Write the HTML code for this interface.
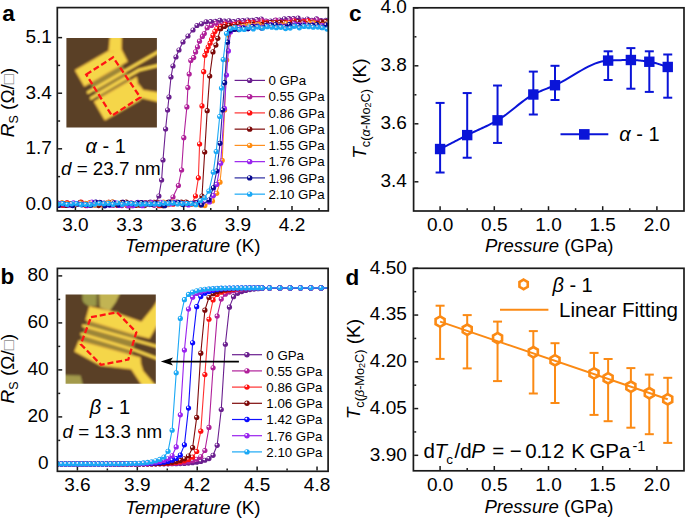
<!DOCTYPE html>
<html><head><meta charset="utf-8"><style>
html,body{margin:0;padding:0;background:#fff;}
svg{display:block;font-family:"Liberation Sans", sans-serif;}
</style></head><body>
<svg width="685" height="518" viewBox="0 0 685 518">
<defs><radialGradient id="gp0" cx="0.37" cy="0.34" r="0.66"><stop offset="0" stop-color="#fff" stop-opacity="0.95"/><stop offset="0.16" stop-color="#fff" stop-opacity="0.55"/><stop offset="0.36" stop-color="#6a1f8f"/><stop offset="1" stop-color="#6a1f8f"/></radialGradient><radialGradient id="gp055" cx="0.37" cy="0.34" r="0.66"><stop offset="0" stop-color="#fff" stop-opacity="0.95"/><stop offset="0.16" stop-color="#fff" stop-opacity="0.55"/><stop offset="0.36" stop-color="#b0209a"/><stop offset="1" stop-color="#b0209a"/></radialGradient><radialGradient id="gp086" cx="0.37" cy="0.34" r="0.66"><stop offset="0" stop-color="#fff" stop-opacity="0.95"/><stop offset="0.16" stop-color="#fff" stop-opacity="0.55"/><stop offset="0.36" stop-color="#ff1010"/><stop offset="1" stop-color="#ff1010"/></radialGradient><radialGradient id="gp106" cx="0.37" cy="0.34" r="0.66"><stop offset="0" stop-color="#fff" stop-opacity="0.95"/><stop offset="0.16" stop-color="#fff" stop-opacity="0.55"/><stop offset="0.36" stop-color="#7e0a0a"/><stop offset="1" stop-color="#7e0a0a"/></radialGradient><radialGradient id="gp155" cx="0.37" cy="0.34" r="0.66"><stop offset="0" stop-color="#fff" stop-opacity="0.95"/><stop offset="0.16" stop-color="#fff" stop-opacity="0.55"/><stop offset="0.36" stop-color="#ff8c10"/><stop offset="1" stop-color="#ff8c10"/></radialGradient><radialGradient id="gp176" cx="0.37" cy="0.34" r="0.66"><stop offset="0" stop-color="#fff" stop-opacity="0.95"/><stop offset="0.16" stop-color="#fff" stop-opacity="0.55"/><stop offset="0.36" stop-color="#9922ee"/><stop offset="1" stop-color="#9922ee"/></radialGradient><radialGradient id="gp196" cx="0.37" cy="0.34" r="0.66"><stop offset="0" stop-color="#fff" stop-opacity="0.95"/><stop offset="0.16" stop-color="#fff" stop-opacity="0.55"/><stop offset="0.36" stop-color="#0a0a90"/><stop offset="1" stop-color="#0a0a90"/></radialGradient><radialGradient id="gp210" cx="0.37" cy="0.34" r="0.66"><stop offset="0" stop-color="#fff" stop-opacity="0.95"/><stop offset="0.16" stop-color="#fff" stop-opacity="0.55"/><stop offset="0.36" stop-color="#1aa8f5"/><stop offset="1" stop-color="#1aa8f5"/></radialGradient><radialGradient id="gp142" cx="0.37" cy="0.34" r="0.66"><stop offset="0" stop-color="#fff" stop-opacity="0.95"/><stop offset="0.16" stop-color="#fff" stop-opacity="0.55"/><stop offset="0.36" stop-color="#0a0aff"/><stop offset="1" stop-color="#0a0aff"/></radialGradient><clipPath id="clipA"><rect x="57.3" y="7.6" width="271.0" height="203.3"/></clipPath><clipPath id="clipB"><rect x="57.4" y="268.4" width="270.70000000000005" height="202.90000000000003"/></clipPath><filter id="blur1" x="-5%" y="-5%" width="110%" height="110%"><feGaussianBlur stdDeviation="0.85"/></filter></defs>
<rect width="685" height="518" fill="#fff"/>
<line x1="75.40" y1="210.10" x2="75.40" y2="206.10" stroke="#1a1a1a" stroke-width="1.5"/>
<line x1="129.55" y1="210.10" x2="129.55" y2="206.10" stroke="#1a1a1a" stroke-width="1.5"/>
<line x1="183.70" y1="210.10" x2="183.70" y2="206.10" stroke="#1a1a1a" stroke-width="1.5"/>
<line x1="237.85" y1="210.10" x2="237.85" y2="206.10" stroke="#1a1a1a" stroke-width="1.5"/>
<line x1="292.00" y1="210.10" x2="292.00" y2="206.10" stroke="#1a1a1a" stroke-width="1.5"/>
<line x1="102.47" y1="210.10" x2="102.47" y2="208.10" stroke="#1a1a1a" stroke-width="1.5"/>
<line x1="156.62" y1="210.10" x2="156.62" y2="208.10" stroke="#1a1a1a" stroke-width="1.5"/>
<line x1="210.78" y1="210.10" x2="210.78" y2="208.10" stroke="#1a1a1a" stroke-width="1.5"/>
<line x1="264.92" y1="210.10" x2="264.92" y2="208.10" stroke="#1a1a1a" stroke-width="1.5"/>
<line x1="319.07" y1="210.10" x2="319.07" y2="208.10" stroke="#1a1a1a" stroke-width="1.5"/>
<line x1="58.10" y1="204.40" x2="62.10" y2="204.40" stroke="#1a1a1a" stroke-width="1.5"/>
<line x1="58.10" y1="148.81" x2="62.10" y2="148.81" stroke="#1a1a1a" stroke-width="1.5"/>
<line x1="58.10" y1="93.22" x2="62.10" y2="93.22" stroke="#1a1a1a" stroke-width="1.5"/>
<line x1="58.10" y1="37.63" x2="62.10" y2="37.63" stroke="#1a1a1a" stroke-width="1.5"/>
<line x1="58.10" y1="176.61" x2="60.10" y2="176.61" stroke="#1a1a1a" stroke-width="1.5"/>
<line x1="58.10" y1="121.02" x2="60.10" y2="121.02" stroke="#1a1a1a" stroke-width="1.5"/>
<line x1="58.10" y1="65.42" x2="60.10" y2="65.42" stroke="#1a1a1a" stroke-width="1.5"/>
<g clip-path="url(#clipA)"><path d="M58.36,204.13 L62.96,205.51 L67.56,203.77 L72.16,203.93 L76.76,204.23 L81.36,202.70 L85.96,203.95 L90.56,204.39 L95.16,205.01 L99.76,202.36 L104.36,203.15 L108.96,202.34 L113.56,205.08 L118.16,204.64 L122.76,202.16 L127.36,205.73 L131.96,205.67 L136.56,204.48 L141.16,204.34 L145.76,202.60 L150.36,202.06 L154.96,204.01 L158.90,196.00 L161.60,180.00 L163.00,160.00 L165.60,129.00 L167.60,110.00 L169.00,97.00 L171.00,77.00 L173.00,66.00 L176.00,57.00 L179.00,50.00 L183.00,42.00 L188.00,36.00 L193.00,30.00 L197.00,25.50 L201.50,23.80 L206.10,21.86 L210.70,21.70 L215.30,21.37 L219.90,20.30 L224.50,21.22 L229.10,20.81 L233.70,21.72 L238.30,20.50 L242.90,20.65 L247.50,20.04 L252.10,20.38 L256.70,19.63 L261.30,18.99 L265.90,21.06 L270.50,20.98 L275.10,20.46 L279.70,20.02 L284.30,18.81 L288.90,18.53 L293.50,18.69 L298.10,18.03 L302.70,20.11 L307.30,19.00 L311.90,20.34 L316.50,18.96 L321.10,20.67 L325.70,20.34 L330.30,17.80" fill="none" stroke="#6a1f8f" stroke-width="1.1" stroke-linejoin="round"/><circle cx="58.36" cy="204.13" r="2.6" fill="url(#gp0)"/><circle cx="62.96" cy="205.51" r="2.6" fill="url(#gp0)"/><circle cx="67.56" cy="203.77" r="2.6" fill="url(#gp0)"/><circle cx="72.16" cy="203.93" r="2.6" fill="url(#gp0)"/><circle cx="76.76" cy="204.23" r="2.6" fill="url(#gp0)"/><circle cx="81.36" cy="202.70" r="2.6" fill="url(#gp0)"/><circle cx="85.96" cy="203.95" r="2.6" fill="url(#gp0)"/><circle cx="90.56" cy="204.39" r="2.6" fill="url(#gp0)"/><circle cx="95.16" cy="205.01" r="2.6" fill="url(#gp0)"/><circle cx="99.76" cy="202.36" r="2.6" fill="url(#gp0)"/><circle cx="104.36" cy="203.15" r="2.6" fill="url(#gp0)"/><circle cx="108.96" cy="202.34" r="2.6" fill="url(#gp0)"/><circle cx="113.56" cy="205.08" r="2.6" fill="url(#gp0)"/><circle cx="118.16" cy="204.64" r="2.6" fill="url(#gp0)"/><circle cx="122.76" cy="202.16" r="2.6" fill="url(#gp0)"/><circle cx="127.36" cy="205.73" r="2.6" fill="url(#gp0)"/><circle cx="131.96" cy="205.67" r="2.6" fill="url(#gp0)"/><circle cx="136.56" cy="204.48" r="2.6" fill="url(#gp0)"/><circle cx="141.16" cy="204.34" r="2.6" fill="url(#gp0)"/><circle cx="145.76" cy="202.60" r="2.6" fill="url(#gp0)"/><circle cx="150.36" cy="202.06" r="2.6" fill="url(#gp0)"/><circle cx="154.96" cy="204.01" r="2.6" fill="url(#gp0)"/><circle cx="158.90" cy="196.00" r="2.6" fill="url(#gp0)"/><circle cx="161.60" cy="180.00" r="2.6" fill="url(#gp0)"/><circle cx="163.00" cy="160.00" r="2.6" fill="url(#gp0)"/><circle cx="165.60" cy="129.00" r="2.6" fill="url(#gp0)"/><circle cx="167.60" cy="110.00" r="2.6" fill="url(#gp0)"/><circle cx="169.00" cy="97.00" r="2.6" fill="url(#gp0)"/><circle cx="171.00" cy="77.00" r="2.6" fill="url(#gp0)"/><circle cx="173.00" cy="66.00" r="2.6" fill="url(#gp0)"/><circle cx="176.00" cy="57.00" r="2.6" fill="url(#gp0)"/><circle cx="179.00" cy="50.00" r="2.6" fill="url(#gp0)"/><circle cx="183.00" cy="42.00" r="2.6" fill="url(#gp0)"/><circle cx="188.00" cy="36.00" r="2.6" fill="url(#gp0)"/><circle cx="193.00" cy="30.00" r="2.6" fill="url(#gp0)"/><circle cx="197.00" cy="25.50" r="2.6" fill="url(#gp0)"/><circle cx="201.50" cy="23.80" r="2.6" fill="url(#gp0)"/><circle cx="206.10" cy="21.86" r="2.6" fill="url(#gp0)"/><circle cx="210.70" cy="21.70" r="2.6" fill="url(#gp0)"/><circle cx="215.30" cy="21.37" r="2.6" fill="url(#gp0)"/><circle cx="219.90" cy="20.30" r="2.6" fill="url(#gp0)"/><circle cx="224.50" cy="21.22" r="2.6" fill="url(#gp0)"/><circle cx="229.10" cy="20.81" r="2.6" fill="url(#gp0)"/><circle cx="233.70" cy="21.72" r="2.6" fill="url(#gp0)"/><circle cx="238.30" cy="20.50" r="2.6" fill="url(#gp0)"/><circle cx="242.90" cy="20.65" r="2.6" fill="url(#gp0)"/><circle cx="247.50" cy="20.04" r="2.6" fill="url(#gp0)"/><circle cx="252.10" cy="20.38" r="2.6" fill="url(#gp0)"/><circle cx="256.70" cy="19.63" r="2.6" fill="url(#gp0)"/><circle cx="261.30" cy="18.99" r="2.6" fill="url(#gp0)"/><circle cx="265.90" cy="21.06" r="2.6" fill="url(#gp0)"/><circle cx="270.50" cy="20.98" r="2.6" fill="url(#gp0)"/><circle cx="275.10" cy="20.46" r="2.6" fill="url(#gp0)"/><circle cx="279.70" cy="20.02" r="2.6" fill="url(#gp0)"/><circle cx="284.30" cy="18.81" r="2.6" fill="url(#gp0)"/><circle cx="288.90" cy="18.53" r="2.6" fill="url(#gp0)"/><circle cx="293.50" cy="18.69" r="2.6" fill="url(#gp0)"/><circle cx="298.10" cy="18.03" r="2.6" fill="url(#gp0)"/><circle cx="302.70" cy="20.11" r="2.6" fill="url(#gp0)"/><circle cx="307.30" cy="19.00" r="2.6" fill="url(#gp0)"/><circle cx="311.90" cy="20.34" r="2.6" fill="url(#gp0)"/><circle cx="316.50" cy="18.96" r="2.6" fill="url(#gp0)"/><circle cx="321.10" cy="20.67" r="2.6" fill="url(#gp0)"/><circle cx="325.70" cy="20.34" r="2.6" fill="url(#gp0)"/><circle cx="330.30" cy="17.80" r="2.6" fill="url(#gp0)"/></g>
<g clip-path="url(#clipA)"><path d="M57.54,204.51 L62.14,203.27 L66.74,202.75 L71.34,203.86 L75.94,203.88 L80.54,203.82 L85.14,203.74 L89.74,203.01 L94.34,202.96 L98.94,204.63 L103.54,203.23 L108.14,204.56 L112.74,204.99 L117.34,205.29 L121.94,205.59 L126.54,202.89 L131.14,202.90 L135.74,204.79 L140.34,204.19 L144.94,202.77 L149.54,204.57 L154.14,205.32 L158.74,205.18 L163.34,202.82 L167.94,203.14 L173.00,197.00 L178.40,185.50 L181.60,170.00 L183.80,137.70 L186.90,106.90 L187.90,87.60 L189.20,74.00 L190.80,60.50 L193.70,57.60 L195.60,51.90 L197.50,47.00 L199.50,41.20 L202.40,36.40 L204.30,33.50 L207.20,27.70 L211.50,25.50 L216.10,23.35 L220.70,25.67 L225.30,22.89 L229.90,23.95 L234.50,22.99 L239.10,22.81 L243.70,22.32 L248.30,22.97 L252.90,22.08 L257.50,21.02 L262.10,20.31 L266.70,21.28 L271.30,22.53 L275.90,20.12 L280.50,21.68 L285.10,21.48 L289.70,20.04 L294.30,20.15 L298.90,21.58 L303.50,20.82 L308.10,20.73 L312.70,20.94 L317.30,19.80 L321.90,21.61 L326.50,21.27" fill="none" stroke="#b0209a" stroke-width="1.1" stroke-linejoin="round"/><circle cx="57.54" cy="204.51" r="2.6" fill="url(#gp055)"/><circle cx="62.14" cy="203.27" r="2.6" fill="url(#gp055)"/><circle cx="66.74" cy="202.75" r="2.6" fill="url(#gp055)"/><circle cx="71.34" cy="203.86" r="2.6" fill="url(#gp055)"/><circle cx="75.94" cy="203.88" r="2.6" fill="url(#gp055)"/><circle cx="80.54" cy="203.82" r="2.6" fill="url(#gp055)"/><circle cx="85.14" cy="203.74" r="2.6" fill="url(#gp055)"/><circle cx="89.74" cy="203.01" r="2.6" fill="url(#gp055)"/><circle cx="94.34" cy="202.96" r="2.6" fill="url(#gp055)"/><circle cx="98.94" cy="204.63" r="2.6" fill="url(#gp055)"/><circle cx="103.54" cy="203.23" r="2.6" fill="url(#gp055)"/><circle cx="108.14" cy="204.56" r="2.6" fill="url(#gp055)"/><circle cx="112.74" cy="204.99" r="2.6" fill="url(#gp055)"/><circle cx="117.34" cy="205.29" r="2.6" fill="url(#gp055)"/><circle cx="121.94" cy="205.59" r="2.6" fill="url(#gp055)"/><circle cx="126.54" cy="202.89" r="2.6" fill="url(#gp055)"/><circle cx="131.14" cy="202.90" r="2.6" fill="url(#gp055)"/><circle cx="135.74" cy="204.79" r="2.6" fill="url(#gp055)"/><circle cx="140.34" cy="204.19" r="2.6" fill="url(#gp055)"/><circle cx="144.94" cy="202.77" r="2.6" fill="url(#gp055)"/><circle cx="149.54" cy="204.57" r="2.6" fill="url(#gp055)"/><circle cx="154.14" cy="205.32" r="2.6" fill="url(#gp055)"/><circle cx="158.74" cy="205.18" r="2.6" fill="url(#gp055)"/><circle cx="163.34" cy="202.82" r="2.6" fill="url(#gp055)"/><circle cx="167.94" cy="203.14" r="2.6" fill="url(#gp055)"/><circle cx="173.00" cy="197.00" r="2.6" fill="url(#gp055)"/><circle cx="178.40" cy="185.50" r="2.6" fill="url(#gp055)"/><circle cx="181.60" cy="170.00" r="2.6" fill="url(#gp055)"/><circle cx="183.80" cy="137.70" r="2.6" fill="url(#gp055)"/><circle cx="186.90" cy="106.90" r="2.6" fill="url(#gp055)"/><circle cx="187.90" cy="87.60" r="2.6" fill="url(#gp055)"/><circle cx="189.20" cy="74.00" r="2.6" fill="url(#gp055)"/><circle cx="190.80" cy="60.50" r="2.6" fill="url(#gp055)"/><circle cx="193.70" cy="57.60" r="2.6" fill="url(#gp055)"/><circle cx="195.60" cy="51.90" r="2.6" fill="url(#gp055)"/><circle cx="197.50" cy="47.00" r="2.6" fill="url(#gp055)"/><circle cx="199.50" cy="41.20" r="2.6" fill="url(#gp055)"/><circle cx="202.40" cy="36.40" r="2.6" fill="url(#gp055)"/><circle cx="204.30" cy="33.50" r="2.6" fill="url(#gp055)"/><circle cx="207.20" cy="27.70" r="2.6" fill="url(#gp055)"/><circle cx="211.50" cy="25.50" r="2.6" fill="url(#gp055)"/><circle cx="216.10" cy="23.35" r="2.6" fill="url(#gp055)"/><circle cx="220.70" cy="25.67" r="2.6" fill="url(#gp055)"/><circle cx="225.30" cy="22.89" r="2.6" fill="url(#gp055)"/><circle cx="229.90" cy="23.95" r="2.6" fill="url(#gp055)"/><circle cx="234.50" cy="22.99" r="2.6" fill="url(#gp055)"/><circle cx="239.10" cy="22.81" r="2.6" fill="url(#gp055)"/><circle cx="243.70" cy="22.32" r="2.6" fill="url(#gp055)"/><circle cx="248.30" cy="22.97" r="2.6" fill="url(#gp055)"/><circle cx="252.90" cy="22.08" r="2.6" fill="url(#gp055)"/><circle cx="257.50" cy="21.02" r="2.6" fill="url(#gp055)"/><circle cx="262.10" cy="20.31" r="2.6" fill="url(#gp055)"/><circle cx="266.70" cy="21.28" r="2.6" fill="url(#gp055)"/><circle cx="271.30" cy="22.53" r="2.6" fill="url(#gp055)"/><circle cx="275.90" cy="20.12" r="2.6" fill="url(#gp055)"/><circle cx="280.50" cy="21.68" r="2.6" fill="url(#gp055)"/><circle cx="285.10" cy="21.48" r="2.6" fill="url(#gp055)"/><circle cx="289.70" cy="20.04" r="2.6" fill="url(#gp055)"/><circle cx="294.30" cy="20.15" r="2.6" fill="url(#gp055)"/><circle cx="298.90" cy="21.58" r="2.6" fill="url(#gp055)"/><circle cx="303.50" cy="20.82" r="2.6" fill="url(#gp055)"/><circle cx="308.10" cy="20.73" r="2.6" fill="url(#gp055)"/><circle cx="312.70" cy="20.94" r="2.6" fill="url(#gp055)"/><circle cx="317.30" cy="19.80" r="2.6" fill="url(#gp055)"/><circle cx="321.90" cy="21.61" r="2.6" fill="url(#gp055)"/><circle cx="326.50" cy="21.27" r="2.6" fill="url(#gp055)"/></g>
<g clip-path="url(#clipA)"><path d="M58.13,205.52 L62.73,205.21 L67.33,202.81 L71.93,205.31 L76.53,204.42 L81.13,202.16 L85.73,205.62 L90.33,202.97 L94.93,203.16 L99.53,203.61 L104.13,204.24 L108.73,202.47 L113.33,204.61 L117.93,205.16 L122.53,203.95 L127.13,205.02 L131.73,204.37 L136.33,205.13 L140.93,202.69 L145.53,203.36 L150.13,203.78 L154.73,202.40 L159.33,205.70 L163.93,204.42 L168.53,202.37 L173.13,204.21 L177.73,203.57 L182.33,202.72 L186.93,202.61 L191.53,203.75 L195.50,196.00 L198.40,177.80 L199.60,144.00 L202.00,105.90 L203.70,71.70 L204.90,55.30 L206.60,50.90 L208.20,47.00 L210.10,43.20 L211.60,39.30 L213.00,35.40 L214.90,31.60 L216.90,28.70 L220.50,26.30 L225.10,24.37 L229.70,25.29 L234.30,24.66 L238.90,23.08 L243.50,24.96 L248.10,22.15 L252.70,22.29 L257.30,24.01 L261.90,22.04 L266.50,22.51 L271.10,22.80 L275.70,22.34 L280.30,22.44 L284.90,22.42 L289.50,22.32 L294.10,21.01 L298.70,23.27 L303.30,21.66 L307.90,20.95 L312.50,22.03 L317.10,23.24 L321.70,22.69 L326.30,22.17 L330.90,22.23" fill="none" stroke="#ff3030" stroke-width="1.1" stroke-linejoin="round"/><circle cx="58.13" cy="205.52" r="2.6" fill="url(#gp086)"/><circle cx="62.73" cy="205.21" r="2.6" fill="url(#gp086)"/><circle cx="67.33" cy="202.81" r="2.6" fill="url(#gp086)"/><circle cx="71.93" cy="205.31" r="2.6" fill="url(#gp086)"/><circle cx="76.53" cy="204.42" r="2.6" fill="url(#gp086)"/><circle cx="81.13" cy="202.16" r="2.6" fill="url(#gp086)"/><circle cx="85.73" cy="205.62" r="2.6" fill="url(#gp086)"/><circle cx="90.33" cy="202.97" r="2.6" fill="url(#gp086)"/><circle cx="94.93" cy="203.16" r="2.6" fill="url(#gp086)"/><circle cx="99.53" cy="203.61" r="2.6" fill="url(#gp086)"/><circle cx="104.13" cy="204.24" r="2.6" fill="url(#gp086)"/><circle cx="108.73" cy="202.47" r="2.6" fill="url(#gp086)"/><circle cx="113.33" cy="204.61" r="2.6" fill="url(#gp086)"/><circle cx="117.93" cy="205.16" r="2.6" fill="url(#gp086)"/><circle cx="122.53" cy="203.95" r="2.6" fill="url(#gp086)"/><circle cx="127.13" cy="205.02" r="2.6" fill="url(#gp086)"/><circle cx="131.73" cy="204.37" r="2.6" fill="url(#gp086)"/><circle cx="136.33" cy="205.13" r="2.6" fill="url(#gp086)"/><circle cx="140.93" cy="202.69" r="2.6" fill="url(#gp086)"/><circle cx="145.53" cy="203.36" r="2.6" fill="url(#gp086)"/><circle cx="150.13" cy="203.78" r="2.6" fill="url(#gp086)"/><circle cx="154.73" cy="202.40" r="2.6" fill="url(#gp086)"/><circle cx="159.33" cy="205.70" r="2.6" fill="url(#gp086)"/><circle cx="163.93" cy="204.42" r="2.6" fill="url(#gp086)"/><circle cx="168.53" cy="202.37" r="2.6" fill="url(#gp086)"/><circle cx="173.13" cy="204.21" r="2.6" fill="url(#gp086)"/><circle cx="177.73" cy="203.57" r="2.6" fill="url(#gp086)"/><circle cx="182.33" cy="202.72" r="2.6" fill="url(#gp086)"/><circle cx="186.93" cy="202.61" r="2.6" fill="url(#gp086)"/><circle cx="191.53" cy="203.75" r="2.6" fill="url(#gp086)"/><circle cx="195.50" cy="196.00" r="2.6" fill="url(#gp086)"/><circle cx="198.40" cy="177.80" r="2.6" fill="url(#gp086)"/><circle cx="199.60" cy="144.00" r="2.6" fill="url(#gp086)"/><circle cx="202.00" cy="105.90" r="2.6" fill="url(#gp086)"/><circle cx="203.70" cy="71.70" r="2.6" fill="url(#gp086)"/><circle cx="204.90" cy="55.30" r="2.6" fill="url(#gp086)"/><circle cx="206.60" cy="50.90" r="2.6" fill="url(#gp086)"/><circle cx="208.20" cy="47.00" r="2.6" fill="url(#gp086)"/><circle cx="210.10" cy="43.20" r="2.6" fill="url(#gp086)"/><circle cx="211.60" cy="39.30" r="2.6" fill="url(#gp086)"/><circle cx="213.00" cy="35.40" r="2.6" fill="url(#gp086)"/><circle cx="214.90" cy="31.60" r="2.6" fill="url(#gp086)"/><circle cx="216.90" cy="28.70" r="2.6" fill="url(#gp086)"/><circle cx="220.50" cy="26.30" r="2.6" fill="url(#gp086)"/><circle cx="225.10" cy="24.37" r="2.6" fill="url(#gp086)"/><circle cx="229.70" cy="25.29" r="2.6" fill="url(#gp086)"/><circle cx="234.30" cy="24.66" r="2.6" fill="url(#gp086)"/><circle cx="238.90" cy="23.08" r="2.6" fill="url(#gp086)"/><circle cx="243.50" cy="24.96" r="2.6" fill="url(#gp086)"/><circle cx="248.10" cy="22.15" r="2.6" fill="url(#gp086)"/><circle cx="252.70" cy="22.29" r="2.6" fill="url(#gp086)"/><circle cx="257.30" cy="24.01" r="2.6" fill="url(#gp086)"/><circle cx="261.90" cy="22.04" r="2.6" fill="url(#gp086)"/><circle cx="266.50" cy="22.51" r="2.6" fill="url(#gp086)"/><circle cx="271.10" cy="22.80" r="2.6" fill="url(#gp086)"/><circle cx="275.70" cy="22.34" r="2.6" fill="url(#gp086)"/><circle cx="280.30" cy="22.44" r="2.6" fill="url(#gp086)"/><circle cx="284.90" cy="22.42" r="2.6" fill="url(#gp086)"/><circle cx="289.50" cy="22.32" r="2.6" fill="url(#gp086)"/><circle cx="294.10" cy="21.01" r="2.6" fill="url(#gp086)"/><circle cx="298.70" cy="23.27" r="2.6" fill="url(#gp086)"/><circle cx="303.30" cy="21.66" r="2.6" fill="url(#gp086)"/><circle cx="307.90" cy="20.95" r="2.6" fill="url(#gp086)"/><circle cx="312.50" cy="22.03" r="2.6" fill="url(#gp086)"/><circle cx="317.10" cy="23.24" r="2.6" fill="url(#gp086)"/><circle cx="321.70" cy="22.69" r="2.6" fill="url(#gp086)"/><circle cx="326.30" cy="22.17" r="2.6" fill="url(#gp086)"/><circle cx="330.90" cy="22.23" r="2.6" fill="url(#gp086)"/></g>
<g clip-path="url(#clipA)"><path d="M57.23,202.81 L61.83,203.15 L66.43,205.42 L71.03,203.89 L75.63,204.74 L80.23,202.38 L84.83,203.93 L89.43,205.20 L94.03,203.99 L98.63,205.59 L103.23,205.35 L107.83,203.41 L112.43,202.00 L117.03,204.87 L121.63,202.48 L126.23,202.04 L130.83,204.78 L135.43,205.20 L140.03,205.18 L144.63,205.62 L149.23,202.77 L153.83,202.31 L158.43,202.46 L163.03,205.72 L167.63,202.43 L172.23,202.61 L176.83,202.08 L181.43,202.19 L186.03,202.15 L190.63,203.34 L195.23,202.62 L202.00,196.00 L204.70,152.00 L207.20,110.70 L209.70,76.00 L213.00,51.90 L215.90,45.10 L217.80,38.30 L220.70,28.70 L224.50,26.50 L229.10,25.35 L233.70,26.70 L238.30,23.98 L242.90,25.55 L247.50,25.00 L252.10,24.22 L256.70,24.02 L261.30,24.42 L265.90,23.72 L270.50,22.53 L275.10,22.73 L279.70,22.40 L284.30,22.82 L288.90,24.54 L293.50,22.83 L298.10,21.73 L302.70,22.94 L307.30,23.94 L311.90,22.84 L316.50,23.61 L321.10,21.77 L325.70,21.69 L330.30,23.49" fill="none" stroke="#7e0a0a" stroke-width="1.1" stroke-linejoin="round"/><circle cx="57.23" cy="202.81" r="2.6" fill="url(#gp106)"/><circle cx="61.83" cy="203.15" r="2.6" fill="url(#gp106)"/><circle cx="66.43" cy="205.42" r="2.6" fill="url(#gp106)"/><circle cx="71.03" cy="203.89" r="2.6" fill="url(#gp106)"/><circle cx="75.63" cy="204.74" r="2.6" fill="url(#gp106)"/><circle cx="80.23" cy="202.38" r="2.6" fill="url(#gp106)"/><circle cx="84.83" cy="203.93" r="2.6" fill="url(#gp106)"/><circle cx="89.43" cy="205.20" r="2.6" fill="url(#gp106)"/><circle cx="94.03" cy="203.99" r="2.6" fill="url(#gp106)"/><circle cx="98.63" cy="205.59" r="2.6" fill="url(#gp106)"/><circle cx="103.23" cy="205.35" r="2.6" fill="url(#gp106)"/><circle cx="107.83" cy="203.41" r="2.6" fill="url(#gp106)"/><circle cx="112.43" cy="202.00" r="2.6" fill="url(#gp106)"/><circle cx="117.03" cy="204.87" r="2.6" fill="url(#gp106)"/><circle cx="121.63" cy="202.48" r="2.6" fill="url(#gp106)"/><circle cx="126.23" cy="202.04" r="2.6" fill="url(#gp106)"/><circle cx="130.83" cy="204.78" r="2.6" fill="url(#gp106)"/><circle cx="135.43" cy="205.20" r="2.6" fill="url(#gp106)"/><circle cx="140.03" cy="205.18" r="2.6" fill="url(#gp106)"/><circle cx="144.63" cy="205.62" r="2.6" fill="url(#gp106)"/><circle cx="149.23" cy="202.77" r="2.6" fill="url(#gp106)"/><circle cx="153.83" cy="202.31" r="2.6" fill="url(#gp106)"/><circle cx="158.43" cy="202.46" r="2.6" fill="url(#gp106)"/><circle cx="163.03" cy="205.72" r="2.6" fill="url(#gp106)"/><circle cx="167.63" cy="202.43" r="2.6" fill="url(#gp106)"/><circle cx="172.23" cy="202.61" r="2.6" fill="url(#gp106)"/><circle cx="176.83" cy="202.08" r="2.6" fill="url(#gp106)"/><circle cx="181.43" cy="202.19" r="2.6" fill="url(#gp106)"/><circle cx="186.03" cy="202.15" r="2.6" fill="url(#gp106)"/><circle cx="190.63" cy="203.34" r="2.6" fill="url(#gp106)"/><circle cx="195.23" cy="202.62" r="2.6" fill="url(#gp106)"/><circle cx="202.00" cy="196.00" r="2.6" fill="url(#gp106)"/><circle cx="204.70" cy="152.00" r="2.6" fill="url(#gp106)"/><circle cx="207.20" cy="110.70" r="2.6" fill="url(#gp106)"/><circle cx="209.70" cy="76.00" r="2.6" fill="url(#gp106)"/><circle cx="213.00" cy="51.90" r="2.6" fill="url(#gp106)"/><circle cx="215.90" cy="45.10" r="2.6" fill="url(#gp106)"/><circle cx="217.80" cy="38.30" r="2.6" fill="url(#gp106)"/><circle cx="220.70" cy="28.70" r="2.6" fill="url(#gp106)"/><circle cx="224.50" cy="26.50" r="2.6" fill="url(#gp106)"/><circle cx="229.10" cy="25.35" r="2.6" fill="url(#gp106)"/><circle cx="233.70" cy="26.70" r="2.6" fill="url(#gp106)"/><circle cx="238.30" cy="23.98" r="2.6" fill="url(#gp106)"/><circle cx="242.90" cy="25.55" r="2.6" fill="url(#gp106)"/><circle cx="247.50" cy="25.00" r="2.6" fill="url(#gp106)"/><circle cx="252.10" cy="24.22" r="2.6" fill="url(#gp106)"/><circle cx="256.70" cy="24.02" r="2.6" fill="url(#gp106)"/><circle cx="261.30" cy="24.42" r="2.6" fill="url(#gp106)"/><circle cx="265.90" cy="23.72" r="2.6" fill="url(#gp106)"/><circle cx="270.50" cy="22.53" r="2.6" fill="url(#gp106)"/><circle cx="275.10" cy="22.73" r="2.6" fill="url(#gp106)"/><circle cx="279.70" cy="22.40" r="2.6" fill="url(#gp106)"/><circle cx="284.30" cy="22.82" r="2.6" fill="url(#gp106)"/><circle cx="288.90" cy="24.54" r="2.6" fill="url(#gp106)"/><circle cx="293.50" cy="22.83" r="2.6" fill="url(#gp106)"/><circle cx="298.10" cy="21.73" r="2.6" fill="url(#gp106)"/><circle cx="302.70" cy="22.94" r="2.6" fill="url(#gp106)"/><circle cx="307.30" cy="23.94" r="2.6" fill="url(#gp106)"/><circle cx="311.90" cy="22.84" r="2.6" fill="url(#gp106)"/><circle cx="316.50" cy="23.61" r="2.6" fill="url(#gp106)"/><circle cx="321.10" cy="21.77" r="2.6" fill="url(#gp106)"/><circle cx="325.70" cy="21.69" r="2.6" fill="url(#gp106)"/><circle cx="330.30" cy="23.49" r="2.6" fill="url(#gp106)"/></g>
<g clip-path="url(#clipA)"><path d="M57.63,203.46 L62.23,202.74 L66.83,203.50 L71.43,204.14 L76.03,204.45 L80.63,202.97 L85.23,203.35 L89.83,202.68 L94.43,205.10 L99.03,203.12 L103.63,205.35 L108.23,202.28 L112.83,202.03 L117.43,203.61 L122.03,203.60 L126.63,204.86 L131.23,205.30 L135.83,203.95 L140.43,203.14 L145.03,204.72 L149.63,203.75 L154.23,202.98 L158.83,203.22 L163.43,202.00 L168.03,204.69 L172.63,202.17 L177.23,202.71 L181.83,204.35 L186.43,204.36 L191.03,204.35 L195.63,204.41 L200.23,205.04 L204.83,205.59 L212.50,201.00 L216.70,193.30 L220.00,182.20 L222.20,160.40 L224.60,110.00 L226.70,60.00 L228.50,35.00 L231.00,28.50 L235.60,29.17 L240.20,26.79 L244.80,26.13 L249.40,25.03 L254.00,25.53 L258.60,24.43 L263.20,26.45 L267.80,25.69 L272.40,23.97 L277.00,25.20 L281.60,25.12 L286.20,23.25 L290.80,25.32 L295.40,25.06 L300.00,24.25 L304.60,25.65 L309.20,23.07 L313.80,22.90 L318.40,24.97 L323.00,24.80 L327.60,22.81" fill="none" stroke="#ff9020" stroke-width="1.1" stroke-linejoin="round"/><circle cx="57.63" cy="203.46" r="2.6" fill="url(#gp155)"/><circle cx="62.23" cy="202.74" r="2.6" fill="url(#gp155)"/><circle cx="66.83" cy="203.50" r="2.6" fill="url(#gp155)"/><circle cx="71.43" cy="204.14" r="2.6" fill="url(#gp155)"/><circle cx="76.03" cy="204.45" r="2.6" fill="url(#gp155)"/><circle cx="80.63" cy="202.97" r="2.6" fill="url(#gp155)"/><circle cx="85.23" cy="203.35" r="2.6" fill="url(#gp155)"/><circle cx="89.83" cy="202.68" r="2.6" fill="url(#gp155)"/><circle cx="94.43" cy="205.10" r="2.6" fill="url(#gp155)"/><circle cx="99.03" cy="203.12" r="2.6" fill="url(#gp155)"/><circle cx="103.63" cy="205.35" r="2.6" fill="url(#gp155)"/><circle cx="108.23" cy="202.28" r="2.6" fill="url(#gp155)"/><circle cx="112.83" cy="202.03" r="2.6" fill="url(#gp155)"/><circle cx="117.43" cy="203.61" r="2.6" fill="url(#gp155)"/><circle cx="122.03" cy="203.60" r="2.6" fill="url(#gp155)"/><circle cx="126.63" cy="204.86" r="2.6" fill="url(#gp155)"/><circle cx="131.23" cy="205.30" r="2.6" fill="url(#gp155)"/><circle cx="135.83" cy="203.95" r="2.6" fill="url(#gp155)"/><circle cx="140.43" cy="203.14" r="2.6" fill="url(#gp155)"/><circle cx="145.03" cy="204.72" r="2.6" fill="url(#gp155)"/><circle cx="149.63" cy="203.75" r="2.6" fill="url(#gp155)"/><circle cx="154.23" cy="202.98" r="2.6" fill="url(#gp155)"/><circle cx="158.83" cy="203.22" r="2.6" fill="url(#gp155)"/><circle cx="163.43" cy="202.00" r="2.6" fill="url(#gp155)"/><circle cx="168.03" cy="204.69" r="2.6" fill="url(#gp155)"/><circle cx="172.63" cy="202.17" r="2.6" fill="url(#gp155)"/><circle cx="177.23" cy="202.71" r="2.6" fill="url(#gp155)"/><circle cx="181.83" cy="204.35" r="2.6" fill="url(#gp155)"/><circle cx="186.43" cy="204.36" r="2.6" fill="url(#gp155)"/><circle cx="191.03" cy="204.35" r="2.6" fill="url(#gp155)"/><circle cx="195.63" cy="204.41" r="2.6" fill="url(#gp155)"/><circle cx="200.23" cy="205.04" r="2.6" fill="url(#gp155)"/><circle cx="204.83" cy="205.59" r="2.6" fill="url(#gp155)"/><circle cx="212.50" cy="201.00" r="2.6" fill="url(#gp155)"/><circle cx="216.70" cy="193.30" r="2.6" fill="url(#gp155)"/><circle cx="220.00" cy="182.20" r="2.6" fill="url(#gp155)"/><circle cx="222.20" cy="160.40" r="2.6" fill="url(#gp155)"/><circle cx="224.60" cy="110.00" r="2.6" fill="url(#gp155)"/><circle cx="226.70" cy="60.00" r="2.6" fill="url(#gp155)"/><circle cx="228.50" cy="35.00" r="2.6" fill="url(#gp155)"/><circle cx="231.00" cy="28.50" r="2.6" fill="url(#gp155)"/><circle cx="235.60" cy="29.17" r="2.6" fill="url(#gp155)"/><circle cx="240.20" cy="26.79" r="2.6" fill="url(#gp155)"/><circle cx="244.80" cy="26.13" r="2.6" fill="url(#gp155)"/><circle cx="249.40" cy="25.03" r="2.6" fill="url(#gp155)"/><circle cx="254.00" cy="25.53" r="2.6" fill="url(#gp155)"/><circle cx="258.60" cy="24.43" r="2.6" fill="url(#gp155)"/><circle cx="263.20" cy="26.45" r="2.6" fill="url(#gp155)"/><circle cx="267.80" cy="25.69" r="2.6" fill="url(#gp155)"/><circle cx="272.40" cy="23.97" r="2.6" fill="url(#gp155)"/><circle cx="277.00" cy="25.20" r="2.6" fill="url(#gp155)"/><circle cx="281.60" cy="25.12" r="2.6" fill="url(#gp155)"/><circle cx="286.20" cy="23.25" r="2.6" fill="url(#gp155)"/><circle cx="290.80" cy="25.32" r="2.6" fill="url(#gp155)"/><circle cx="295.40" cy="25.06" r="2.6" fill="url(#gp155)"/><circle cx="300.00" cy="24.25" r="2.6" fill="url(#gp155)"/><circle cx="304.60" cy="25.65" r="2.6" fill="url(#gp155)"/><circle cx="309.20" cy="23.07" r="2.6" fill="url(#gp155)"/><circle cx="313.80" cy="22.90" r="2.6" fill="url(#gp155)"/><circle cx="318.40" cy="24.97" r="2.6" fill="url(#gp155)"/><circle cx="323.00" cy="24.80" r="2.6" fill="url(#gp155)"/><circle cx="327.60" cy="22.81" r="2.6" fill="url(#gp155)"/></g>
<g clip-path="url(#clipA)"><path d="M59.66,203.52 L64.26,204.24 L68.86,205.27 L73.46,202.87 L78.06,203.96 L82.66,204.22 L87.26,205.60 L91.86,202.12 L96.46,202.26 L101.06,203.22 L105.66,205.14 L110.26,205.20 L114.86,202.51 L119.46,205.49 L124.06,204.01 L128.66,205.68 L133.26,205.55 L137.86,202.35 L142.46,205.70 L147.06,203.82 L151.66,202.59 L156.26,203.77 L160.86,202.28 L165.46,204.85 L170.06,204.07 L174.66,202.42 L179.26,202.86 L183.86,203.92 L188.46,204.96 L193.06,203.05 L197.66,202.41 L202.26,203.35 L209.50,202.00 L213.30,195.60 L216.70,184.40 L220.70,163.30 L224.40,108.40 L226.50,75.00 L228.40,50.90 L230.50,32.00 L234.50,29.50 L239.10,27.43 L243.70,27.55 L248.30,28.59 L252.90,26.05 L257.50,26.00 L262.10,27.09 L266.70,25.11 L271.30,24.63 L275.90,24.87 L280.50,25.82 L285.10,26.03 L289.70,25.86 L294.30,23.97 L298.90,24.59 L303.50,24.07 L308.10,25.39 L312.70,24.80 L317.30,25.95 L321.90,25.41 L326.50,25.45" fill="none" stroke="#9922ee" stroke-width="1.1" stroke-linejoin="round"/><circle cx="59.66" cy="203.52" r="2.6" fill="url(#gp176)"/><circle cx="64.26" cy="204.24" r="2.6" fill="url(#gp176)"/><circle cx="68.86" cy="205.27" r="2.6" fill="url(#gp176)"/><circle cx="73.46" cy="202.87" r="2.6" fill="url(#gp176)"/><circle cx="78.06" cy="203.96" r="2.6" fill="url(#gp176)"/><circle cx="82.66" cy="204.22" r="2.6" fill="url(#gp176)"/><circle cx="87.26" cy="205.60" r="2.6" fill="url(#gp176)"/><circle cx="91.86" cy="202.12" r="2.6" fill="url(#gp176)"/><circle cx="96.46" cy="202.26" r="2.6" fill="url(#gp176)"/><circle cx="101.06" cy="203.22" r="2.6" fill="url(#gp176)"/><circle cx="105.66" cy="205.14" r="2.6" fill="url(#gp176)"/><circle cx="110.26" cy="205.20" r="2.6" fill="url(#gp176)"/><circle cx="114.86" cy="202.51" r="2.6" fill="url(#gp176)"/><circle cx="119.46" cy="205.49" r="2.6" fill="url(#gp176)"/><circle cx="124.06" cy="204.01" r="2.6" fill="url(#gp176)"/><circle cx="128.66" cy="205.68" r="2.6" fill="url(#gp176)"/><circle cx="133.26" cy="205.55" r="2.6" fill="url(#gp176)"/><circle cx="137.86" cy="202.35" r="2.6" fill="url(#gp176)"/><circle cx="142.46" cy="205.70" r="2.6" fill="url(#gp176)"/><circle cx="147.06" cy="203.82" r="2.6" fill="url(#gp176)"/><circle cx="151.66" cy="202.59" r="2.6" fill="url(#gp176)"/><circle cx="156.26" cy="203.77" r="2.6" fill="url(#gp176)"/><circle cx="160.86" cy="202.28" r="2.6" fill="url(#gp176)"/><circle cx="165.46" cy="204.85" r="2.6" fill="url(#gp176)"/><circle cx="170.06" cy="204.07" r="2.6" fill="url(#gp176)"/><circle cx="174.66" cy="202.42" r="2.6" fill="url(#gp176)"/><circle cx="179.26" cy="202.86" r="2.6" fill="url(#gp176)"/><circle cx="183.86" cy="203.92" r="2.6" fill="url(#gp176)"/><circle cx="188.46" cy="204.96" r="2.6" fill="url(#gp176)"/><circle cx="193.06" cy="203.05" r="2.6" fill="url(#gp176)"/><circle cx="197.66" cy="202.41" r="2.6" fill="url(#gp176)"/><circle cx="202.26" cy="203.35" r="2.6" fill="url(#gp176)"/><circle cx="209.50" cy="202.00" r="2.6" fill="url(#gp176)"/><circle cx="213.30" cy="195.60" r="2.6" fill="url(#gp176)"/><circle cx="216.70" cy="184.40" r="2.6" fill="url(#gp176)"/><circle cx="220.70" cy="163.30" r="2.6" fill="url(#gp176)"/><circle cx="224.40" cy="108.40" r="2.6" fill="url(#gp176)"/><circle cx="226.50" cy="75.00" r="2.6" fill="url(#gp176)"/><circle cx="228.40" cy="50.90" r="2.6" fill="url(#gp176)"/><circle cx="230.50" cy="32.00" r="2.6" fill="url(#gp176)"/><circle cx="234.50" cy="29.50" r="2.6" fill="url(#gp176)"/><circle cx="239.10" cy="27.43" r="2.6" fill="url(#gp176)"/><circle cx="243.70" cy="27.55" r="2.6" fill="url(#gp176)"/><circle cx="248.30" cy="28.59" r="2.6" fill="url(#gp176)"/><circle cx="252.90" cy="26.05" r="2.6" fill="url(#gp176)"/><circle cx="257.50" cy="26.00" r="2.6" fill="url(#gp176)"/><circle cx="262.10" cy="27.09" r="2.6" fill="url(#gp176)"/><circle cx="266.70" cy="25.11" r="2.6" fill="url(#gp176)"/><circle cx="271.30" cy="24.63" r="2.6" fill="url(#gp176)"/><circle cx="275.90" cy="24.87" r="2.6" fill="url(#gp176)"/><circle cx="280.50" cy="25.82" r="2.6" fill="url(#gp176)"/><circle cx="285.10" cy="26.03" r="2.6" fill="url(#gp176)"/><circle cx="289.70" cy="25.86" r="2.6" fill="url(#gp176)"/><circle cx="294.30" cy="23.97" r="2.6" fill="url(#gp176)"/><circle cx="298.90" cy="24.59" r="2.6" fill="url(#gp176)"/><circle cx="303.50" cy="24.07" r="2.6" fill="url(#gp176)"/><circle cx="308.10" cy="25.39" r="2.6" fill="url(#gp176)"/><circle cx="312.70" cy="24.80" r="2.6" fill="url(#gp176)"/><circle cx="317.30" cy="25.95" r="2.6" fill="url(#gp176)"/><circle cx="321.90" cy="25.41" r="2.6" fill="url(#gp176)"/><circle cx="326.50" cy="25.45" r="2.6" fill="url(#gp176)"/></g>
<g clip-path="url(#clipA)"><path d="M58.85,205.38 L63.45,203.73 L68.05,204.70 L72.65,205.56 L77.25,203.98 L81.85,204.79 L86.45,204.77 L91.05,205.26 L95.65,202.14 L100.25,202.64 L104.85,205.79 L109.45,204.84 L114.05,202.99 L118.65,204.82 L123.25,202.64 L127.85,203.37 L132.45,203.68 L137.05,202.87 L141.65,202.53 L146.25,203.93 L150.85,204.46 L155.45,203.21 L160.05,204.51 L164.65,205.73 L169.25,202.21 L173.85,203.06 L178.45,202.34 L183.05,204.57 L187.65,203.57 L192.25,203.67 L196.85,202.94 L201.45,204.95 L209.00,200.00 L213.30,187.80 L216.70,171.00 L220.00,143.30 L222.50,110.00 L224.60,82.70 L227.50,42.20 L229.50,31.00 L234.00,29.50 L238.60,29.61 L243.20,28.10 L247.80,28.74 L252.40,26.55 L257.00,26.55 L261.60,28.10 L266.20,25.68 L270.80,25.25 L275.40,24.77 L280.00,26.57 L284.60,26.93 L289.20,24.57 L293.80,25.80 L298.40,25.53 L303.00,25.30 L307.60,25.01 L312.20,25.46 L316.80,24.72 L321.40,27.07 L326.00,24.90 L330.60,25.91" fill="none" stroke="#2a2aa0" stroke-width="1.1" stroke-linejoin="round"/><circle cx="58.85" cy="205.38" r="2.6" fill="url(#gp196)"/><circle cx="63.45" cy="203.73" r="2.6" fill="url(#gp196)"/><circle cx="68.05" cy="204.70" r="2.6" fill="url(#gp196)"/><circle cx="72.65" cy="205.56" r="2.6" fill="url(#gp196)"/><circle cx="77.25" cy="203.98" r="2.6" fill="url(#gp196)"/><circle cx="81.85" cy="204.79" r="2.6" fill="url(#gp196)"/><circle cx="86.45" cy="204.77" r="2.6" fill="url(#gp196)"/><circle cx="91.05" cy="205.26" r="2.6" fill="url(#gp196)"/><circle cx="95.65" cy="202.14" r="2.6" fill="url(#gp196)"/><circle cx="100.25" cy="202.64" r="2.6" fill="url(#gp196)"/><circle cx="104.85" cy="205.79" r="2.6" fill="url(#gp196)"/><circle cx="109.45" cy="204.84" r="2.6" fill="url(#gp196)"/><circle cx="114.05" cy="202.99" r="2.6" fill="url(#gp196)"/><circle cx="118.65" cy="204.82" r="2.6" fill="url(#gp196)"/><circle cx="123.25" cy="202.64" r="2.6" fill="url(#gp196)"/><circle cx="127.85" cy="203.37" r="2.6" fill="url(#gp196)"/><circle cx="132.45" cy="203.68" r="2.6" fill="url(#gp196)"/><circle cx="137.05" cy="202.87" r="2.6" fill="url(#gp196)"/><circle cx="141.65" cy="202.53" r="2.6" fill="url(#gp196)"/><circle cx="146.25" cy="203.93" r="2.6" fill="url(#gp196)"/><circle cx="150.85" cy="204.46" r="2.6" fill="url(#gp196)"/><circle cx="155.45" cy="203.21" r="2.6" fill="url(#gp196)"/><circle cx="160.05" cy="204.51" r="2.6" fill="url(#gp196)"/><circle cx="164.65" cy="205.73" r="2.6" fill="url(#gp196)"/><circle cx="169.25" cy="202.21" r="2.6" fill="url(#gp196)"/><circle cx="173.85" cy="203.06" r="2.6" fill="url(#gp196)"/><circle cx="178.45" cy="202.34" r="2.6" fill="url(#gp196)"/><circle cx="183.05" cy="204.57" r="2.6" fill="url(#gp196)"/><circle cx="187.65" cy="203.57" r="2.6" fill="url(#gp196)"/><circle cx="192.25" cy="203.67" r="2.6" fill="url(#gp196)"/><circle cx="196.85" cy="202.94" r="2.6" fill="url(#gp196)"/><circle cx="201.45" cy="204.95" r="2.6" fill="url(#gp196)"/><circle cx="209.00" cy="200.00" r="2.6" fill="url(#gp196)"/><circle cx="213.30" cy="187.80" r="2.6" fill="url(#gp196)"/><circle cx="216.70" cy="171.00" r="2.6" fill="url(#gp196)"/><circle cx="220.00" cy="143.30" r="2.6" fill="url(#gp196)"/><circle cx="222.50" cy="110.00" r="2.6" fill="url(#gp196)"/><circle cx="224.60" cy="82.70" r="2.6" fill="url(#gp196)"/><circle cx="227.50" cy="42.20" r="2.6" fill="url(#gp196)"/><circle cx="229.50" cy="31.00" r="2.6" fill="url(#gp196)"/><circle cx="234.00" cy="29.50" r="2.6" fill="url(#gp196)"/><circle cx="238.60" cy="29.61" r="2.6" fill="url(#gp196)"/><circle cx="243.20" cy="28.10" r="2.6" fill="url(#gp196)"/><circle cx="247.80" cy="28.74" r="2.6" fill="url(#gp196)"/><circle cx="252.40" cy="26.55" r="2.6" fill="url(#gp196)"/><circle cx="257.00" cy="26.55" r="2.6" fill="url(#gp196)"/><circle cx="261.60" cy="28.10" r="2.6" fill="url(#gp196)"/><circle cx="266.20" cy="25.68" r="2.6" fill="url(#gp196)"/><circle cx="270.80" cy="25.25" r="2.6" fill="url(#gp196)"/><circle cx="275.40" cy="24.77" r="2.6" fill="url(#gp196)"/><circle cx="280.00" cy="26.57" r="2.6" fill="url(#gp196)"/><circle cx="284.60" cy="26.93" r="2.6" fill="url(#gp196)"/><circle cx="289.20" cy="24.57" r="2.6" fill="url(#gp196)"/><circle cx="293.80" cy="25.80" r="2.6" fill="url(#gp196)"/><circle cx="298.40" cy="25.53" r="2.6" fill="url(#gp196)"/><circle cx="303.00" cy="25.30" r="2.6" fill="url(#gp196)"/><circle cx="307.60" cy="25.01" r="2.6" fill="url(#gp196)"/><circle cx="312.20" cy="25.46" r="2.6" fill="url(#gp196)"/><circle cx="316.80" cy="24.72" r="2.6" fill="url(#gp196)"/><circle cx="321.40" cy="27.07" r="2.6" fill="url(#gp196)"/><circle cx="326.00" cy="24.90" r="2.6" fill="url(#gp196)"/><circle cx="330.60" cy="25.91" r="2.6" fill="url(#gp196)"/></g>
<g clip-path="url(#clipA)"><path d="M57.92,204.04 L62.52,203.48 L67.12,204.45 L71.72,203.84 L76.32,203.60 L80.92,204.61 L85.52,204.43 L90.12,204.55 L94.72,204.20 L99.32,203.33 L103.92,203.70 L108.52,203.43 L113.12,204.43 L117.72,203.02 L122.32,204.42 L126.92,203.30 L131.52,203.55 L136.12,204.13 L140.72,204.21 L145.32,203.92 L149.92,204.00 L154.52,204.06 L159.12,204.08 L163.72,203.19 L168.32,203.54 L172.92,203.04 L177.52,204.02 L182.12,203.53 L186.72,203.44 L191.32,203.49 L195.92,204.69 L200.50,200.50 L204.40,197.80 L208.90,191.10 L213.30,172.20 L216.20,151.60 L219.70,116.50 L221.50,88.00 L223.20,59.60 L226.50,33.50 L230.40,28.70 L235.00,27.39 L239.60,29.55 L244.20,29.41 L248.80,27.19 L253.40,28.97 L258.00,26.98 L262.60,28.26 L267.20,26.63 L271.80,27.18 L276.40,27.67 L281.00,27.29 L285.60,28.62 L290.20,28.07 L294.80,26.22 L299.40,27.78 L304.00,26.38 L308.60,26.63 L313.20,27.27 L317.80,27.05 L322.40,27.77 L327.00,29.05" fill="none" stroke="#1aa8f5" stroke-width="1.1" stroke-linejoin="round"/><circle cx="57.92" cy="204.04" r="2.6" fill="url(#gp210)"/><circle cx="62.52" cy="203.48" r="2.6" fill="url(#gp210)"/><circle cx="67.12" cy="204.45" r="2.6" fill="url(#gp210)"/><circle cx="71.72" cy="203.84" r="2.6" fill="url(#gp210)"/><circle cx="76.32" cy="203.60" r="2.6" fill="url(#gp210)"/><circle cx="80.92" cy="204.61" r="2.6" fill="url(#gp210)"/><circle cx="85.52" cy="204.43" r="2.6" fill="url(#gp210)"/><circle cx="90.12" cy="204.55" r="2.6" fill="url(#gp210)"/><circle cx="94.72" cy="204.20" r="2.6" fill="url(#gp210)"/><circle cx="99.32" cy="203.33" r="2.6" fill="url(#gp210)"/><circle cx="103.92" cy="203.70" r="2.6" fill="url(#gp210)"/><circle cx="108.52" cy="203.43" r="2.6" fill="url(#gp210)"/><circle cx="113.12" cy="204.43" r="2.6" fill="url(#gp210)"/><circle cx="117.72" cy="203.02" r="2.6" fill="url(#gp210)"/><circle cx="122.32" cy="204.42" r="2.6" fill="url(#gp210)"/><circle cx="126.92" cy="203.30" r="2.6" fill="url(#gp210)"/><circle cx="131.52" cy="203.55" r="2.6" fill="url(#gp210)"/><circle cx="136.12" cy="204.13" r="2.6" fill="url(#gp210)"/><circle cx="140.72" cy="204.21" r="2.6" fill="url(#gp210)"/><circle cx="145.32" cy="203.92" r="2.6" fill="url(#gp210)"/><circle cx="149.92" cy="204.00" r="2.6" fill="url(#gp210)"/><circle cx="154.52" cy="204.06" r="2.6" fill="url(#gp210)"/><circle cx="159.12" cy="204.08" r="2.6" fill="url(#gp210)"/><circle cx="163.72" cy="203.19" r="2.6" fill="url(#gp210)"/><circle cx="168.32" cy="203.54" r="2.6" fill="url(#gp210)"/><circle cx="172.92" cy="203.04" r="2.6" fill="url(#gp210)"/><circle cx="177.52" cy="204.02" r="2.6" fill="url(#gp210)"/><circle cx="182.12" cy="203.53" r="2.6" fill="url(#gp210)"/><circle cx="186.72" cy="203.44" r="2.6" fill="url(#gp210)"/><circle cx="191.32" cy="203.49" r="2.6" fill="url(#gp210)"/><circle cx="195.92" cy="204.69" r="2.6" fill="url(#gp210)"/><circle cx="200.50" cy="200.50" r="2.6" fill="url(#gp210)"/><circle cx="204.40" cy="197.80" r="2.6" fill="url(#gp210)"/><circle cx="208.90" cy="191.10" r="2.6" fill="url(#gp210)"/><circle cx="213.30" cy="172.20" r="2.6" fill="url(#gp210)"/><circle cx="216.20" cy="151.60" r="2.6" fill="url(#gp210)"/><circle cx="219.70" cy="116.50" r="2.6" fill="url(#gp210)"/><circle cx="221.50" cy="88.00" r="2.6" fill="url(#gp210)"/><circle cx="223.20" cy="59.60" r="2.6" fill="url(#gp210)"/><circle cx="226.50" cy="33.50" r="2.6" fill="url(#gp210)"/><circle cx="230.40" cy="28.70" r="2.6" fill="url(#gp210)"/><circle cx="235.00" cy="27.39" r="2.6" fill="url(#gp210)"/><circle cx="239.60" cy="29.55" r="2.6" fill="url(#gp210)"/><circle cx="244.20" cy="29.41" r="2.6" fill="url(#gp210)"/><circle cx="248.80" cy="27.19" r="2.6" fill="url(#gp210)"/><circle cx="253.40" cy="28.97" r="2.6" fill="url(#gp210)"/><circle cx="258.00" cy="26.98" r="2.6" fill="url(#gp210)"/><circle cx="262.60" cy="28.26" r="2.6" fill="url(#gp210)"/><circle cx="267.20" cy="26.63" r="2.6" fill="url(#gp210)"/><circle cx="271.80" cy="27.18" r="2.6" fill="url(#gp210)"/><circle cx="276.40" cy="27.67" r="2.6" fill="url(#gp210)"/><circle cx="281.00" cy="27.29" r="2.6" fill="url(#gp210)"/><circle cx="285.60" cy="28.62" r="2.6" fill="url(#gp210)"/><circle cx="290.20" cy="28.07" r="2.6" fill="url(#gp210)"/><circle cx="294.80" cy="26.22" r="2.6" fill="url(#gp210)"/><circle cx="299.40" cy="27.78" r="2.6" fill="url(#gp210)"/><circle cx="304.00" cy="26.38" r="2.6" fill="url(#gp210)"/><circle cx="308.60" cy="26.63" r="2.6" fill="url(#gp210)"/><circle cx="313.20" cy="27.27" r="2.6" fill="url(#gp210)"/><circle cx="317.80" cy="27.05" r="2.6" fill="url(#gp210)"/><circle cx="322.40" cy="27.77" r="2.6" fill="url(#gp210)"/><circle cx="327.00" cy="29.05" r="2.6" fill="url(#gp210)"/></g>
<rect x="57.30" y="7.60" width="271.00" height="203.30" fill="none" stroke="#1a1a1a" stroke-width="1.7"/>
<text x="75.40" y="231.00" font-size="19" text-anchor="middle" font-weight="normal" font-style="normal" fill="#000">3.0</text>
<text x="129.55" y="231.00" font-size="19" text-anchor="middle" font-weight="normal" font-style="normal" fill="#000">3.3</text>
<text x="183.70" y="231.00" font-size="19" text-anchor="middle" font-weight="normal" font-style="normal" fill="#000">3.6</text>
<text x="237.85" y="231.00" font-size="19" text-anchor="middle" font-weight="normal" font-style="normal" fill="#000">3.9</text>
<text x="292.00" y="231.00" font-size="19" text-anchor="middle" font-weight="normal" font-style="normal" fill="#000">4.2</text>
<text x="51.80" y="209.90" font-size="19" text-anchor="end" font-weight="normal" font-style="normal" fill="#000">0.0</text>
<text x="51.80" y="154.31" font-size="19" text-anchor="end" font-weight="normal" font-style="normal" fill="#000">1.7</text>
<text x="51.80" y="98.72" font-size="19" text-anchor="end" font-weight="normal" font-style="normal" fill="#000">3.4</text>
<text x="51.80" y="43.13" font-size="19" text-anchor="end" font-weight="normal" font-style="normal" fill="#000">5.1</text>
<text x="125.0" y="251.8" font-size="18.7"><tspan font-style="italic">Temperature</tspan> (K)</text>
<text transform="translate(13.6,137.3) rotate(-90)" font-size="19" x="0" y="0"><tspan font-style="italic">R</tspan><tspan font-size="12.5" dy="4">S</tspan><tspan dy="-4"> (Ω/</tspan><tspan fill="#8a8a8a" font-size="16.5">□</tspan>)</text>
<text x="2.30" y="20.70" font-size="22.5" text-anchor="start" font-weight="bold" font-style="normal" fill="#000">a</text>
<line x1="234.60" y1="80.40" x2="265.00" y2="80.40" stroke="#6a1f8f" stroke-width="1.2"/>
<circle cx="249.70" cy="80.40" r="2.7" fill="url(#gp0)"/>
<text x="268.40" y="85.20" font-size="13.3" text-anchor="start" font-weight="normal" font-style="normal" fill="#000">0 GPa</text>
<line x1="234.60" y1="96.65" x2="265.00" y2="96.65" stroke="#b0209a" stroke-width="1.2"/>
<circle cx="249.70" cy="96.65" r="2.7" fill="url(#gp055)"/>
<text x="268.40" y="101.45" font-size="13.3" text-anchor="start" font-weight="normal" font-style="normal" fill="#000">0.55 GPa</text>
<line x1="234.60" y1="112.90" x2="265.00" y2="112.90" stroke="#ff3030" stroke-width="1.2"/>
<circle cx="249.70" cy="112.90" r="2.7" fill="url(#gp086)"/>
<text x="268.40" y="117.70" font-size="13.3" text-anchor="start" font-weight="normal" font-style="normal" fill="#000">0.86 GPa</text>
<line x1="234.60" y1="129.15" x2="265.00" y2="129.15" stroke="#7e0a0a" stroke-width="1.2"/>
<circle cx="249.70" cy="129.15" r="2.7" fill="url(#gp106)"/>
<text x="268.40" y="133.95" font-size="13.3" text-anchor="start" font-weight="normal" font-style="normal" fill="#000">1.06 GPa</text>
<line x1="234.60" y1="145.40" x2="265.00" y2="145.40" stroke="#ff9020" stroke-width="1.2"/>
<circle cx="249.70" cy="145.40" r="2.7" fill="url(#gp155)"/>
<text x="268.40" y="150.20" font-size="13.3" text-anchor="start" font-weight="normal" font-style="normal" fill="#000">1.55 GPa</text>
<line x1="234.60" y1="161.65" x2="265.00" y2="161.65" stroke="#9922ee" stroke-width="1.2"/>
<circle cx="249.70" cy="161.65" r="2.7" fill="url(#gp176)"/>
<text x="268.40" y="166.45" font-size="13.3" text-anchor="start" font-weight="normal" font-style="normal" fill="#000">1.76 GPa</text>
<line x1="234.60" y1="177.90" x2="265.00" y2="177.90" stroke="#2a2aa0" stroke-width="1.2"/>
<circle cx="249.70" cy="177.90" r="2.7" fill="url(#gp196)"/>
<text x="268.40" y="182.70" font-size="13.3" text-anchor="start" font-weight="normal" font-style="normal" fill="#000">1.96 GPa</text>
<line x1="234.60" y1="194.15" x2="265.00" y2="194.15" stroke="#1aa8f5" stroke-width="1.2"/>
<circle cx="249.70" cy="194.15" r="2.7" fill="url(#gp210)"/>
<text x="268.40" y="198.95" font-size="13.3" text-anchor="start" font-weight="normal" font-style="normal" fill="#000">2.10 GPa</text>
<text x="85.5" y="152.8" font-size="20"><tspan font-style="italic">α</tspan> - 1</text>
<text x="61.0" y="174.6" font-size="18.8"><tspan font-style="italic">d</tspan> = 23.7 nm</text>
<line x1="77.40" y1="470.50" x2="77.40" y2="466.50" stroke="#1a1a1a" stroke-width="1.5"/>
<line x1="137.31" y1="470.50" x2="137.31" y2="466.50" stroke="#1a1a1a" stroke-width="1.5"/>
<line x1="197.22" y1="470.50" x2="197.22" y2="466.50" stroke="#1a1a1a" stroke-width="1.5"/>
<line x1="257.13" y1="470.50" x2="257.13" y2="466.50" stroke="#1a1a1a" stroke-width="1.5"/>
<line x1="317.04" y1="470.50" x2="317.04" y2="466.50" stroke="#1a1a1a" stroke-width="1.5"/>
<line x1="107.35" y1="470.50" x2="107.35" y2="468.50" stroke="#1a1a1a" stroke-width="1.5"/>
<line x1="167.26" y1="470.50" x2="167.26" y2="468.50" stroke="#1a1a1a" stroke-width="1.5"/>
<line x1="227.17" y1="470.50" x2="227.17" y2="468.50" stroke="#1a1a1a" stroke-width="1.5"/>
<line x1="287.09" y1="470.50" x2="287.09" y2="468.50" stroke="#1a1a1a" stroke-width="1.5"/>
<line x1="58.20" y1="463.90" x2="62.20" y2="463.90" stroke="#1a1a1a" stroke-width="1.5"/>
<line x1="58.20" y1="416.90" x2="62.20" y2="416.90" stroke="#1a1a1a" stroke-width="1.5"/>
<line x1="58.20" y1="369.90" x2="62.20" y2="369.90" stroke="#1a1a1a" stroke-width="1.5"/>
<line x1="58.20" y1="322.90" x2="62.20" y2="322.90" stroke="#1a1a1a" stroke-width="1.5"/>
<line x1="58.20" y1="275.90" x2="62.20" y2="275.90" stroke="#1a1a1a" stroke-width="1.5"/>
<line x1="58.20" y1="440.40" x2="60.20" y2="440.40" stroke="#1a1a1a" stroke-width="1.5"/>
<line x1="58.20" y1="393.40" x2="60.20" y2="393.40" stroke="#1a1a1a" stroke-width="1.5"/>
<line x1="58.20" y1="346.40" x2="60.20" y2="346.40" stroke="#1a1a1a" stroke-width="1.5"/>
<line x1="58.20" y1="299.40" x2="60.20" y2="299.40" stroke="#1a1a1a" stroke-width="1.5"/>
<g clip-path="url(#clipB)"><path d="M41.13,463.90 L45.23,463.90 L49.32,463.90 L53.42,463.90 L57.51,463.90 L61.60,463.90 L65.70,463.90 L69.79,463.90 L73.89,463.90 L77.98,463.90 L82.07,463.90 L86.17,463.90 L90.26,463.90 L94.35,463.90 L98.45,463.90 L102.54,463.90 L106.64,463.90 L110.73,463.90 L114.82,463.90 L118.92,463.90 L123.01,463.90 L127.11,463.90 L131.20,463.90 L135.29,463.90 L139.39,463.89 L143.48,463.89 L147.57,463.89 L151.67,463.88 L155.76,463.87 L159.86,463.85 L163.95,463.83 L168.04,463.80 L172.14,463.75 L176.23,463.67 L180.33,463.55 L184.42,463.38 L188.51,463.12 L192.61,462.74 L196.70,462.19 L200.79,461.40 L204.89,460.27 L208.98,458.57 L213.08,455.30 L217.17,445.29 L221.26,409.51 L225.36,344.24 L229.45,307.13 L233.55,296.66 L237.64,293.29 L241.73,291.56 L245.83,290.42 L249.92,289.62 L254.01,289.06 L258.11,288.68 L262.20,288.42 L269.59,288.14 L279.90,287.98 L290.20,287.92 L300.50,287.90 L310.81,287.89 L321.11,287.89 L331.42,287.89" fill="none" stroke="#6a1f8f" stroke-width="1.1" stroke-linejoin="round"/><circle cx="41.13" cy="463.90" r="2.6" fill="url(#gp0)"/><circle cx="45.23" cy="463.90" r="2.6" fill="url(#gp0)"/><circle cx="49.32" cy="463.90" r="2.6" fill="url(#gp0)"/><circle cx="53.42" cy="463.90" r="2.6" fill="url(#gp0)"/><circle cx="57.51" cy="463.90" r="2.6" fill="url(#gp0)"/><circle cx="61.60" cy="463.90" r="2.6" fill="url(#gp0)"/><circle cx="65.70" cy="463.90" r="2.6" fill="url(#gp0)"/><circle cx="69.79" cy="463.90" r="2.6" fill="url(#gp0)"/><circle cx="73.89" cy="463.90" r="2.6" fill="url(#gp0)"/><circle cx="77.98" cy="463.90" r="2.6" fill="url(#gp0)"/><circle cx="82.07" cy="463.90" r="2.6" fill="url(#gp0)"/><circle cx="86.17" cy="463.90" r="2.6" fill="url(#gp0)"/><circle cx="90.26" cy="463.90" r="2.6" fill="url(#gp0)"/><circle cx="94.35" cy="463.90" r="2.6" fill="url(#gp0)"/><circle cx="98.45" cy="463.90" r="2.6" fill="url(#gp0)"/><circle cx="102.54" cy="463.90" r="2.6" fill="url(#gp0)"/><circle cx="106.64" cy="463.90" r="2.6" fill="url(#gp0)"/><circle cx="110.73" cy="463.90" r="2.6" fill="url(#gp0)"/><circle cx="114.82" cy="463.90" r="2.6" fill="url(#gp0)"/><circle cx="118.92" cy="463.90" r="2.6" fill="url(#gp0)"/><circle cx="123.01" cy="463.90" r="2.6" fill="url(#gp0)"/><circle cx="127.11" cy="463.90" r="2.6" fill="url(#gp0)"/><circle cx="131.20" cy="463.90" r="2.6" fill="url(#gp0)"/><circle cx="135.29" cy="463.90" r="2.6" fill="url(#gp0)"/><circle cx="139.39" cy="463.89" r="2.6" fill="url(#gp0)"/><circle cx="143.48" cy="463.89" r="2.6" fill="url(#gp0)"/><circle cx="147.57" cy="463.89" r="2.6" fill="url(#gp0)"/><circle cx="151.67" cy="463.88" r="2.6" fill="url(#gp0)"/><circle cx="155.76" cy="463.87" r="2.6" fill="url(#gp0)"/><circle cx="159.86" cy="463.85" r="2.6" fill="url(#gp0)"/><circle cx="163.95" cy="463.83" r="2.6" fill="url(#gp0)"/><circle cx="168.04" cy="463.80" r="2.6" fill="url(#gp0)"/><circle cx="172.14" cy="463.75" r="2.6" fill="url(#gp0)"/><circle cx="176.23" cy="463.67" r="2.6" fill="url(#gp0)"/><circle cx="180.33" cy="463.55" r="2.6" fill="url(#gp0)"/><circle cx="184.42" cy="463.38" r="2.6" fill="url(#gp0)"/><circle cx="188.51" cy="463.12" r="2.6" fill="url(#gp0)"/><circle cx="192.61" cy="462.74" r="2.6" fill="url(#gp0)"/><circle cx="196.70" cy="462.19" r="2.6" fill="url(#gp0)"/><circle cx="200.79" cy="461.40" r="2.6" fill="url(#gp0)"/><circle cx="204.89" cy="460.27" r="2.6" fill="url(#gp0)"/><circle cx="208.98" cy="458.57" r="2.6" fill="url(#gp0)"/><circle cx="213.08" cy="455.30" r="2.6" fill="url(#gp0)"/><circle cx="217.17" cy="445.29" r="2.6" fill="url(#gp0)"/><circle cx="221.26" cy="409.51" r="2.6" fill="url(#gp0)"/><circle cx="225.36" cy="344.24" r="2.6" fill="url(#gp0)"/><circle cx="229.45" cy="307.13" r="2.6" fill="url(#gp0)"/><circle cx="233.55" cy="296.66" r="2.6" fill="url(#gp0)"/><circle cx="237.64" cy="293.29" r="2.6" fill="url(#gp0)"/><circle cx="241.73" cy="291.56" r="2.6" fill="url(#gp0)"/><circle cx="245.83" cy="290.42" r="2.6" fill="url(#gp0)"/><circle cx="249.92" cy="289.62" r="2.6" fill="url(#gp0)"/><circle cx="254.01" cy="289.06" r="2.6" fill="url(#gp0)"/><circle cx="258.11" cy="288.68" r="2.6" fill="url(#gp0)"/><circle cx="262.20" cy="288.42" r="2.6" fill="url(#gp0)"/><circle cx="269.59" cy="288.14" r="2.6" fill="url(#gp0)"/><circle cx="279.90" cy="287.98" r="2.6" fill="url(#gp0)"/><circle cx="290.20" cy="287.92" r="2.6" fill="url(#gp0)"/><circle cx="300.50" cy="287.90" r="2.6" fill="url(#gp0)"/><circle cx="310.81" cy="287.89" r="2.6" fill="url(#gp0)"/><circle cx="321.11" cy="287.89" r="2.6" fill="url(#gp0)"/><circle cx="331.42" cy="287.89" r="2.6" fill="url(#gp0)"/></g>
<g clip-path="url(#clipB)"><path d="M41.13,463.90 L45.23,463.90 L49.32,463.90 L53.42,463.90 L57.51,463.90 L61.60,463.90 L65.70,463.90 L69.79,463.90 L73.89,463.90 L77.98,463.90 L82.07,463.90 L86.17,463.90 L90.26,463.90 L94.35,463.90 L98.45,463.90 L102.54,463.90 L106.64,463.90 L110.73,463.90 L114.82,463.90 L118.92,463.90 L123.01,463.90 L127.11,463.89 L131.20,463.89 L135.29,463.89 L139.39,463.88 L143.48,463.87 L147.57,463.86 L151.67,463.84 L155.76,463.81 L159.86,463.77 L163.95,463.70 L168.04,463.60 L172.14,463.45 L176.23,463.23 L180.33,462.90 L184.42,462.42 L188.51,461.72 L192.61,460.73 L196.70,459.29 L200.79,456.83 L204.89,450.52 L208.98,427.38 L213.08,367.80 L217.17,316.09 L221.26,299.05 L225.36,294.21 L229.45,292.10 L233.55,290.79 L237.64,289.88 L241.73,289.24 L245.83,288.80 L249.92,288.50 L254.01,288.30 L258.11,288.16 L262.20,288.07 L269.59,287.97 L279.90,287.92 L290.20,287.90 L300.50,287.89 L310.81,287.89 L321.11,287.89 L331.42,287.89" fill="none" stroke="#b0209a" stroke-width="1.1" stroke-linejoin="round"/><circle cx="41.13" cy="463.90" r="2.6" fill="url(#gp055)"/><circle cx="45.23" cy="463.90" r="2.6" fill="url(#gp055)"/><circle cx="49.32" cy="463.90" r="2.6" fill="url(#gp055)"/><circle cx="53.42" cy="463.90" r="2.6" fill="url(#gp055)"/><circle cx="57.51" cy="463.90" r="2.6" fill="url(#gp055)"/><circle cx="61.60" cy="463.90" r="2.6" fill="url(#gp055)"/><circle cx="65.70" cy="463.90" r="2.6" fill="url(#gp055)"/><circle cx="69.79" cy="463.90" r="2.6" fill="url(#gp055)"/><circle cx="73.89" cy="463.90" r="2.6" fill="url(#gp055)"/><circle cx="77.98" cy="463.90" r="2.6" fill="url(#gp055)"/><circle cx="82.07" cy="463.90" r="2.6" fill="url(#gp055)"/><circle cx="86.17" cy="463.90" r="2.6" fill="url(#gp055)"/><circle cx="90.26" cy="463.90" r="2.6" fill="url(#gp055)"/><circle cx="94.35" cy="463.90" r="2.6" fill="url(#gp055)"/><circle cx="98.45" cy="463.90" r="2.6" fill="url(#gp055)"/><circle cx="102.54" cy="463.90" r="2.6" fill="url(#gp055)"/><circle cx="106.64" cy="463.90" r="2.6" fill="url(#gp055)"/><circle cx="110.73" cy="463.90" r="2.6" fill="url(#gp055)"/><circle cx="114.82" cy="463.90" r="2.6" fill="url(#gp055)"/><circle cx="118.92" cy="463.90" r="2.6" fill="url(#gp055)"/><circle cx="123.01" cy="463.90" r="2.6" fill="url(#gp055)"/><circle cx="127.11" cy="463.89" r="2.6" fill="url(#gp055)"/><circle cx="131.20" cy="463.89" r="2.6" fill="url(#gp055)"/><circle cx="135.29" cy="463.89" r="2.6" fill="url(#gp055)"/><circle cx="139.39" cy="463.88" r="2.6" fill="url(#gp055)"/><circle cx="143.48" cy="463.87" r="2.6" fill="url(#gp055)"/><circle cx="147.57" cy="463.86" r="2.6" fill="url(#gp055)"/><circle cx="151.67" cy="463.84" r="2.6" fill="url(#gp055)"/><circle cx="155.76" cy="463.81" r="2.6" fill="url(#gp055)"/><circle cx="159.86" cy="463.77" r="2.6" fill="url(#gp055)"/><circle cx="163.95" cy="463.70" r="2.6" fill="url(#gp055)"/><circle cx="168.04" cy="463.60" r="2.6" fill="url(#gp055)"/><circle cx="172.14" cy="463.45" r="2.6" fill="url(#gp055)"/><circle cx="176.23" cy="463.23" r="2.6" fill="url(#gp055)"/><circle cx="180.33" cy="462.90" r="2.6" fill="url(#gp055)"/><circle cx="184.42" cy="462.42" r="2.6" fill="url(#gp055)"/><circle cx="188.51" cy="461.72" r="2.6" fill="url(#gp055)"/><circle cx="192.61" cy="460.73" r="2.6" fill="url(#gp055)"/><circle cx="196.70" cy="459.29" r="2.6" fill="url(#gp055)"/><circle cx="200.79" cy="456.83" r="2.6" fill="url(#gp055)"/><circle cx="204.89" cy="450.52" r="2.6" fill="url(#gp055)"/><circle cx="208.98" cy="427.38" r="2.6" fill="url(#gp055)"/><circle cx="213.08" cy="367.80" r="2.6" fill="url(#gp055)"/><circle cx="217.17" cy="316.09" r="2.6" fill="url(#gp055)"/><circle cx="221.26" cy="299.05" r="2.6" fill="url(#gp055)"/><circle cx="225.36" cy="294.21" r="2.6" fill="url(#gp055)"/><circle cx="229.45" cy="292.10" r="2.6" fill="url(#gp055)"/><circle cx="233.55" cy="290.79" r="2.6" fill="url(#gp055)"/><circle cx="237.64" cy="289.88" r="2.6" fill="url(#gp055)"/><circle cx="241.73" cy="289.24" r="2.6" fill="url(#gp055)"/><circle cx="245.83" cy="288.80" r="2.6" fill="url(#gp055)"/><circle cx="249.92" cy="288.50" r="2.6" fill="url(#gp055)"/><circle cx="254.01" cy="288.30" r="2.6" fill="url(#gp055)"/><circle cx="258.11" cy="288.16" r="2.6" fill="url(#gp055)"/><circle cx="262.20" cy="288.07" r="2.6" fill="url(#gp055)"/><circle cx="269.59" cy="287.97" r="2.6" fill="url(#gp055)"/><circle cx="279.90" cy="287.92" r="2.6" fill="url(#gp055)"/><circle cx="290.20" cy="287.90" r="2.6" fill="url(#gp055)"/><circle cx="300.50" cy="287.89" r="2.6" fill="url(#gp055)"/><circle cx="310.81" cy="287.89" r="2.6" fill="url(#gp055)"/><circle cx="321.11" cy="287.89" r="2.6" fill="url(#gp055)"/><circle cx="331.42" cy="287.89" r="2.6" fill="url(#gp055)"/></g>
<g clip-path="url(#clipB)"><path d="M41.13,463.90 L45.23,463.90 L49.32,463.90 L53.42,463.90 L57.51,463.90 L61.60,463.90 L65.70,463.90 L69.79,463.90 L73.89,463.90 L77.98,463.90 L82.07,463.90 L86.17,463.90 L90.26,463.90 L94.35,463.90 L98.45,463.90 L102.54,463.90 L106.64,463.90 L110.73,463.90 L114.82,463.90 L118.92,463.90 L123.01,463.89 L127.11,463.89 L131.20,463.88 L135.29,463.88 L139.39,463.86 L143.48,463.84 L147.57,463.81 L151.67,463.77 L155.76,463.71 L159.86,463.61 L163.95,463.47 L168.04,463.25 L172.14,462.94 L176.23,462.47 L180.33,461.80 L184.42,460.85 L188.51,459.46 L192.61,457.16 L196.70,451.52 L200.79,431.13 L204.89,374.54 L208.98,319.27 L213.08,299.89 L217.17,294.50 L221.26,292.26 L225.36,290.89 L229.45,289.95 L233.55,289.29 L237.64,288.84 L241.73,288.52 L245.83,288.31 L249.92,288.17 L254.01,288.07 L258.11,288.01 L262.20,287.97 L269.59,287.93 L279.90,287.90 L290.20,287.89 L300.50,287.89 L310.81,287.89 L321.11,287.89 L331.42,287.89" fill="none" stroke="#ff3030" stroke-width="1.1" stroke-linejoin="round"/><circle cx="41.13" cy="463.90" r="2.6" fill="url(#gp086)"/><circle cx="45.23" cy="463.90" r="2.6" fill="url(#gp086)"/><circle cx="49.32" cy="463.90" r="2.6" fill="url(#gp086)"/><circle cx="53.42" cy="463.90" r="2.6" fill="url(#gp086)"/><circle cx="57.51" cy="463.90" r="2.6" fill="url(#gp086)"/><circle cx="61.60" cy="463.90" r="2.6" fill="url(#gp086)"/><circle cx="65.70" cy="463.90" r="2.6" fill="url(#gp086)"/><circle cx="69.79" cy="463.90" r="2.6" fill="url(#gp086)"/><circle cx="73.89" cy="463.90" r="2.6" fill="url(#gp086)"/><circle cx="77.98" cy="463.90" r="2.6" fill="url(#gp086)"/><circle cx="82.07" cy="463.90" r="2.6" fill="url(#gp086)"/><circle cx="86.17" cy="463.90" r="2.6" fill="url(#gp086)"/><circle cx="90.26" cy="463.90" r="2.6" fill="url(#gp086)"/><circle cx="94.35" cy="463.90" r="2.6" fill="url(#gp086)"/><circle cx="98.45" cy="463.90" r="2.6" fill="url(#gp086)"/><circle cx="102.54" cy="463.90" r="2.6" fill="url(#gp086)"/><circle cx="106.64" cy="463.90" r="2.6" fill="url(#gp086)"/><circle cx="110.73" cy="463.90" r="2.6" fill="url(#gp086)"/><circle cx="114.82" cy="463.90" r="2.6" fill="url(#gp086)"/><circle cx="118.92" cy="463.90" r="2.6" fill="url(#gp086)"/><circle cx="123.01" cy="463.89" r="2.6" fill="url(#gp086)"/><circle cx="127.11" cy="463.89" r="2.6" fill="url(#gp086)"/><circle cx="131.20" cy="463.88" r="2.6" fill="url(#gp086)"/><circle cx="135.29" cy="463.88" r="2.6" fill="url(#gp086)"/><circle cx="139.39" cy="463.86" r="2.6" fill="url(#gp086)"/><circle cx="143.48" cy="463.84" r="2.6" fill="url(#gp086)"/><circle cx="147.57" cy="463.81" r="2.6" fill="url(#gp086)"/><circle cx="151.67" cy="463.77" r="2.6" fill="url(#gp086)"/><circle cx="155.76" cy="463.71" r="2.6" fill="url(#gp086)"/><circle cx="159.86" cy="463.61" r="2.6" fill="url(#gp086)"/><circle cx="163.95" cy="463.47" r="2.6" fill="url(#gp086)"/><circle cx="168.04" cy="463.25" r="2.6" fill="url(#gp086)"/><circle cx="172.14" cy="462.94" r="2.6" fill="url(#gp086)"/><circle cx="176.23" cy="462.47" r="2.6" fill="url(#gp086)"/><circle cx="180.33" cy="461.80" r="2.6" fill="url(#gp086)"/><circle cx="184.42" cy="460.85" r="2.6" fill="url(#gp086)"/><circle cx="188.51" cy="459.46" r="2.6" fill="url(#gp086)"/><circle cx="192.61" cy="457.16" r="2.6" fill="url(#gp086)"/><circle cx="196.70" cy="451.52" r="2.6" fill="url(#gp086)"/><circle cx="200.79" cy="431.13" r="2.6" fill="url(#gp086)"/><circle cx="204.89" cy="374.54" r="2.6" fill="url(#gp086)"/><circle cx="208.98" cy="319.27" r="2.6" fill="url(#gp086)"/><circle cx="213.08" cy="299.89" r="2.6" fill="url(#gp086)"/><circle cx="217.17" cy="294.50" r="2.6" fill="url(#gp086)"/><circle cx="221.26" cy="292.26" r="2.6" fill="url(#gp086)"/><circle cx="225.36" cy="290.89" r="2.6" fill="url(#gp086)"/><circle cx="229.45" cy="289.95" r="2.6" fill="url(#gp086)"/><circle cx="233.55" cy="289.29" r="2.6" fill="url(#gp086)"/><circle cx="237.64" cy="288.84" r="2.6" fill="url(#gp086)"/><circle cx="241.73" cy="288.52" r="2.6" fill="url(#gp086)"/><circle cx="245.83" cy="288.31" r="2.6" fill="url(#gp086)"/><circle cx="249.92" cy="288.17" r="2.6" fill="url(#gp086)"/><circle cx="254.01" cy="288.07" r="2.6" fill="url(#gp086)"/><circle cx="258.11" cy="288.01" r="2.6" fill="url(#gp086)"/><circle cx="262.20" cy="287.97" r="2.6" fill="url(#gp086)"/><circle cx="269.59" cy="287.93" r="2.6" fill="url(#gp086)"/><circle cx="279.90" cy="287.90" r="2.6" fill="url(#gp086)"/><circle cx="290.20" cy="287.89" r="2.6" fill="url(#gp086)"/><circle cx="300.50" cy="287.89" r="2.6" fill="url(#gp086)"/><circle cx="310.81" cy="287.89" r="2.6" fill="url(#gp086)"/><circle cx="321.11" cy="287.89" r="2.6" fill="url(#gp086)"/><circle cx="331.42" cy="287.89" r="2.6" fill="url(#gp086)"/></g>
<g clip-path="url(#clipB)"><path d="M41.13,463.90 L45.23,463.90 L49.32,463.90 L53.42,463.90 L57.51,463.90 L61.60,463.90 L65.70,463.90 L69.79,463.90 L73.89,463.90 L77.98,463.90 L82.07,463.90 L86.17,463.90 L90.26,463.90 L94.35,463.90 L98.45,463.90 L102.54,463.90 L106.64,463.90 L110.73,463.90 L114.82,463.89 L118.92,463.89 L123.01,463.89 L127.11,463.88 L131.20,463.87 L135.29,463.86 L139.39,463.84 L143.48,463.80 L147.57,463.75 L151.67,463.68 L155.76,463.57 L159.86,463.41 L163.95,463.16 L168.04,462.81 L172.14,462.29 L176.23,461.54 L180.33,460.46 L184.42,458.87 L188.51,455.98 L192.61,447.70 L196.70,417.39 L200.79,353.19 L204.89,310.20 L208.98,297.49 L213.08,293.63 L217.17,291.77 L221.26,290.56 L225.36,289.72 L229.45,289.13 L233.55,288.72 L237.64,288.45 L241.73,288.26 L245.83,288.14 L249.92,288.05 L254.01,288.00 L258.11,287.96 L262.20,287.93 L269.59,287.91 L279.90,287.89 L290.20,287.89 L300.50,287.89 L310.81,287.89 L321.11,287.89 L331.42,287.89" fill="none" stroke="#7e0a0a" stroke-width="1.1" stroke-linejoin="round"/><circle cx="41.13" cy="463.90" r="2.6" fill="url(#gp106)"/><circle cx="45.23" cy="463.90" r="2.6" fill="url(#gp106)"/><circle cx="49.32" cy="463.90" r="2.6" fill="url(#gp106)"/><circle cx="53.42" cy="463.90" r="2.6" fill="url(#gp106)"/><circle cx="57.51" cy="463.90" r="2.6" fill="url(#gp106)"/><circle cx="61.60" cy="463.90" r="2.6" fill="url(#gp106)"/><circle cx="65.70" cy="463.90" r="2.6" fill="url(#gp106)"/><circle cx="69.79" cy="463.90" r="2.6" fill="url(#gp106)"/><circle cx="73.89" cy="463.90" r="2.6" fill="url(#gp106)"/><circle cx="77.98" cy="463.90" r="2.6" fill="url(#gp106)"/><circle cx="82.07" cy="463.90" r="2.6" fill="url(#gp106)"/><circle cx="86.17" cy="463.90" r="2.6" fill="url(#gp106)"/><circle cx="90.26" cy="463.90" r="2.6" fill="url(#gp106)"/><circle cx="94.35" cy="463.90" r="2.6" fill="url(#gp106)"/><circle cx="98.45" cy="463.90" r="2.6" fill="url(#gp106)"/><circle cx="102.54" cy="463.90" r="2.6" fill="url(#gp106)"/><circle cx="106.64" cy="463.90" r="2.6" fill="url(#gp106)"/><circle cx="110.73" cy="463.90" r="2.6" fill="url(#gp106)"/><circle cx="114.82" cy="463.89" r="2.6" fill="url(#gp106)"/><circle cx="118.92" cy="463.89" r="2.6" fill="url(#gp106)"/><circle cx="123.01" cy="463.89" r="2.6" fill="url(#gp106)"/><circle cx="127.11" cy="463.88" r="2.6" fill="url(#gp106)"/><circle cx="131.20" cy="463.87" r="2.6" fill="url(#gp106)"/><circle cx="135.29" cy="463.86" r="2.6" fill="url(#gp106)"/><circle cx="139.39" cy="463.84" r="2.6" fill="url(#gp106)"/><circle cx="143.48" cy="463.80" r="2.6" fill="url(#gp106)"/><circle cx="147.57" cy="463.75" r="2.6" fill="url(#gp106)"/><circle cx="151.67" cy="463.68" r="2.6" fill="url(#gp106)"/><circle cx="155.76" cy="463.57" r="2.6" fill="url(#gp106)"/><circle cx="159.86" cy="463.41" r="2.6" fill="url(#gp106)"/><circle cx="163.95" cy="463.16" r="2.6" fill="url(#gp106)"/><circle cx="168.04" cy="462.81" r="2.6" fill="url(#gp106)"/><circle cx="172.14" cy="462.29" r="2.6" fill="url(#gp106)"/><circle cx="176.23" cy="461.54" r="2.6" fill="url(#gp106)"/><circle cx="180.33" cy="460.46" r="2.6" fill="url(#gp106)"/><circle cx="184.42" cy="458.87" r="2.6" fill="url(#gp106)"/><circle cx="188.51" cy="455.98" r="2.6" fill="url(#gp106)"/><circle cx="192.61" cy="447.70" r="2.6" fill="url(#gp106)"/><circle cx="196.70" cy="417.39" r="2.6" fill="url(#gp106)"/><circle cx="200.79" cy="353.19" r="2.6" fill="url(#gp106)"/><circle cx="204.89" cy="310.20" r="2.6" fill="url(#gp106)"/><circle cx="208.98" cy="297.49" r="2.6" fill="url(#gp106)"/><circle cx="213.08" cy="293.63" r="2.6" fill="url(#gp106)"/><circle cx="217.17" cy="291.77" r="2.6" fill="url(#gp106)"/><circle cx="221.26" cy="290.56" r="2.6" fill="url(#gp106)"/><circle cx="225.36" cy="289.72" r="2.6" fill="url(#gp106)"/><circle cx="229.45" cy="289.13" r="2.6" fill="url(#gp106)"/><circle cx="233.55" cy="288.72" r="2.6" fill="url(#gp106)"/><circle cx="237.64" cy="288.45" r="2.6" fill="url(#gp106)"/><circle cx="241.73" cy="288.26" r="2.6" fill="url(#gp106)"/><circle cx="245.83" cy="288.14" r="2.6" fill="url(#gp106)"/><circle cx="249.92" cy="288.05" r="2.6" fill="url(#gp106)"/><circle cx="254.01" cy="288.00" r="2.6" fill="url(#gp106)"/><circle cx="258.11" cy="287.96" r="2.6" fill="url(#gp106)"/><circle cx="262.20" cy="287.93" r="2.6" fill="url(#gp106)"/><circle cx="269.59" cy="287.91" r="2.6" fill="url(#gp106)"/><circle cx="279.90" cy="287.89" r="2.6" fill="url(#gp106)"/><circle cx="290.20" cy="287.89" r="2.6" fill="url(#gp106)"/><circle cx="300.50" cy="287.89" r="2.6" fill="url(#gp106)"/><circle cx="310.81" cy="287.89" r="2.6" fill="url(#gp106)"/><circle cx="321.11" cy="287.89" r="2.6" fill="url(#gp106)"/><circle cx="331.42" cy="287.89" r="2.6" fill="url(#gp106)"/></g>
<g clip-path="url(#clipB)"><path d="M41.13,463.90 L45.23,463.90 L49.32,463.90 L53.42,463.90 L57.51,463.90 L61.60,463.90 L65.70,463.90 L69.79,463.90 L73.89,463.90 L77.98,463.90 L82.07,463.90 L86.17,463.90 L90.26,463.90 L94.35,463.90 L98.45,463.90 L102.54,463.90 L106.64,463.89 L110.73,463.89 L114.82,463.89 L118.92,463.88 L123.01,463.87 L127.11,463.85 L131.20,463.83 L135.29,463.80 L139.39,463.74 L143.48,463.66 L147.57,463.55 L151.67,463.37 L155.76,463.11 L159.86,462.73 L163.95,462.18 L168.04,461.38 L172.14,460.24 L176.23,458.51 L180.33,455.17 L184.42,444.84 L188.51,408.11 L192.61,342.83 L196.70,306.67 L200.79,296.54 L204.89,293.24 L208.98,291.53 L213.08,290.39 L217.17,289.60 L221.26,289.05 L225.36,288.67 L229.45,288.41 L233.55,288.24 L237.64,288.12 L241.73,288.04 L245.83,287.99 L249.92,287.95 L254.01,287.93 L258.11,287.92 L262.20,287.91 L269.59,287.89 L279.90,287.89 L290.20,287.89 L300.50,287.89 L310.81,287.89 L321.11,287.89 L331.42,287.89" fill="none" stroke="#1010ff" stroke-width="1.1" stroke-linejoin="round"/><circle cx="41.13" cy="463.90" r="2.6" fill="url(#gp142)"/><circle cx="45.23" cy="463.90" r="2.6" fill="url(#gp142)"/><circle cx="49.32" cy="463.90" r="2.6" fill="url(#gp142)"/><circle cx="53.42" cy="463.90" r="2.6" fill="url(#gp142)"/><circle cx="57.51" cy="463.90" r="2.6" fill="url(#gp142)"/><circle cx="61.60" cy="463.90" r="2.6" fill="url(#gp142)"/><circle cx="65.70" cy="463.90" r="2.6" fill="url(#gp142)"/><circle cx="69.79" cy="463.90" r="2.6" fill="url(#gp142)"/><circle cx="73.89" cy="463.90" r="2.6" fill="url(#gp142)"/><circle cx="77.98" cy="463.90" r="2.6" fill="url(#gp142)"/><circle cx="82.07" cy="463.90" r="2.6" fill="url(#gp142)"/><circle cx="86.17" cy="463.90" r="2.6" fill="url(#gp142)"/><circle cx="90.26" cy="463.90" r="2.6" fill="url(#gp142)"/><circle cx="94.35" cy="463.90" r="2.6" fill="url(#gp142)"/><circle cx="98.45" cy="463.90" r="2.6" fill="url(#gp142)"/><circle cx="102.54" cy="463.90" r="2.6" fill="url(#gp142)"/><circle cx="106.64" cy="463.89" r="2.6" fill="url(#gp142)"/><circle cx="110.73" cy="463.89" r="2.6" fill="url(#gp142)"/><circle cx="114.82" cy="463.89" r="2.6" fill="url(#gp142)"/><circle cx="118.92" cy="463.88" r="2.6" fill="url(#gp142)"/><circle cx="123.01" cy="463.87" r="2.6" fill="url(#gp142)"/><circle cx="127.11" cy="463.85" r="2.6" fill="url(#gp142)"/><circle cx="131.20" cy="463.83" r="2.6" fill="url(#gp142)"/><circle cx="135.29" cy="463.80" r="2.6" fill="url(#gp142)"/><circle cx="139.39" cy="463.74" r="2.6" fill="url(#gp142)"/><circle cx="143.48" cy="463.66" r="2.6" fill="url(#gp142)"/><circle cx="147.57" cy="463.55" r="2.6" fill="url(#gp142)"/><circle cx="151.67" cy="463.37" r="2.6" fill="url(#gp142)"/><circle cx="155.76" cy="463.11" r="2.6" fill="url(#gp142)"/><circle cx="159.86" cy="462.73" r="2.6" fill="url(#gp142)"/><circle cx="163.95" cy="462.18" r="2.6" fill="url(#gp142)"/><circle cx="168.04" cy="461.38" r="2.6" fill="url(#gp142)"/><circle cx="172.14" cy="460.24" r="2.6" fill="url(#gp142)"/><circle cx="176.23" cy="458.51" r="2.6" fill="url(#gp142)"/><circle cx="180.33" cy="455.17" r="2.6" fill="url(#gp142)"/><circle cx="184.42" cy="444.84" r="2.6" fill="url(#gp142)"/><circle cx="188.51" cy="408.11" r="2.6" fill="url(#gp142)"/><circle cx="192.61" cy="342.83" r="2.6" fill="url(#gp142)"/><circle cx="196.70" cy="306.67" r="2.6" fill="url(#gp142)"/><circle cx="200.79" cy="296.54" r="2.6" fill="url(#gp142)"/><circle cx="204.89" cy="293.24" r="2.6" fill="url(#gp142)"/><circle cx="208.98" cy="291.53" r="2.6" fill="url(#gp142)"/><circle cx="213.08" cy="290.39" r="2.6" fill="url(#gp142)"/><circle cx="217.17" cy="289.60" r="2.6" fill="url(#gp142)"/><circle cx="221.26" cy="289.05" r="2.6" fill="url(#gp142)"/><circle cx="225.36" cy="288.67" r="2.6" fill="url(#gp142)"/><circle cx="229.45" cy="288.41" r="2.6" fill="url(#gp142)"/><circle cx="233.55" cy="288.24" r="2.6" fill="url(#gp142)"/><circle cx="237.64" cy="288.12" r="2.6" fill="url(#gp142)"/><circle cx="241.73" cy="288.04" r="2.6" fill="url(#gp142)"/><circle cx="245.83" cy="287.99" r="2.6" fill="url(#gp142)"/><circle cx="249.92" cy="287.95" r="2.6" fill="url(#gp142)"/><circle cx="254.01" cy="287.93" r="2.6" fill="url(#gp142)"/><circle cx="258.11" cy="287.92" r="2.6" fill="url(#gp142)"/><circle cx="262.20" cy="287.91" r="2.6" fill="url(#gp142)"/><circle cx="269.59" cy="287.89" r="2.6" fill="url(#gp142)"/><circle cx="279.90" cy="287.89" r="2.6" fill="url(#gp142)"/><circle cx="290.20" cy="287.89" r="2.6" fill="url(#gp142)"/><circle cx="300.50" cy="287.89" r="2.6" fill="url(#gp142)"/><circle cx="310.81" cy="287.89" r="2.6" fill="url(#gp142)"/><circle cx="321.11" cy="287.89" r="2.6" fill="url(#gp142)"/><circle cx="331.42" cy="287.89" r="2.6" fill="url(#gp142)"/></g>
<g clip-path="url(#clipB)"><path d="M41.13,463.90 L45.23,463.90 L49.32,463.90 L53.42,463.90 L57.51,463.90 L61.60,463.90 L65.70,463.90 L69.79,463.90 L73.89,463.90 L77.98,463.90 L82.07,463.90 L86.17,463.90 L90.26,463.90 L94.35,463.90 L98.45,463.89 L102.54,463.89 L106.64,463.89 L110.73,463.88 L114.82,463.87 L118.92,463.86 L123.01,463.83 L127.11,463.80 L131.20,463.75 L135.29,463.68 L139.39,463.56 L143.48,463.40 L147.57,463.15 L151.67,462.79 L155.76,462.25 L159.86,461.49 L163.95,460.40 L168.04,458.77 L172.14,455.77 L176.23,446.95 L180.33,414.87 L184.42,350.12 L188.51,309.11 L192.61,297.20 L196.70,293.52 L200.79,291.70 L204.89,290.51 L208.98,289.68 L213.08,289.10 L217.17,288.71 L221.26,288.44 L225.36,288.25 L229.45,288.13 L233.55,288.05 L237.64,287.99 L241.73,287.96 L245.83,287.93 L249.92,287.92 L254.01,287.91 L258.11,287.90 L262.20,287.89 L269.59,287.89 L279.90,287.89 L290.20,287.89 L300.50,287.89 L310.81,287.89 L321.11,287.89 L331.42,287.89" fill="none" stroke="#9922ee" stroke-width="1.1" stroke-linejoin="round"/><circle cx="41.13" cy="463.90" r="2.6" fill="url(#gp176)"/><circle cx="45.23" cy="463.90" r="2.6" fill="url(#gp176)"/><circle cx="49.32" cy="463.90" r="2.6" fill="url(#gp176)"/><circle cx="53.42" cy="463.90" r="2.6" fill="url(#gp176)"/><circle cx="57.51" cy="463.90" r="2.6" fill="url(#gp176)"/><circle cx="61.60" cy="463.90" r="2.6" fill="url(#gp176)"/><circle cx="65.70" cy="463.90" r="2.6" fill="url(#gp176)"/><circle cx="69.79" cy="463.90" r="2.6" fill="url(#gp176)"/><circle cx="73.89" cy="463.90" r="2.6" fill="url(#gp176)"/><circle cx="77.98" cy="463.90" r="2.6" fill="url(#gp176)"/><circle cx="82.07" cy="463.90" r="2.6" fill="url(#gp176)"/><circle cx="86.17" cy="463.90" r="2.6" fill="url(#gp176)"/><circle cx="90.26" cy="463.90" r="2.6" fill="url(#gp176)"/><circle cx="94.35" cy="463.90" r="2.6" fill="url(#gp176)"/><circle cx="98.45" cy="463.89" r="2.6" fill="url(#gp176)"/><circle cx="102.54" cy="463.89" r="2.6" fill="url(#gp176)"/><circle cx="106.64" cy="463.89" r="2.6" fill="url(#gp176)"/><circle cx="110.73" cy="463.88" r="2.6" fill="url(#gp176)"/><circle cx="114.82" cy="463.87" r="2.6" fill="url(#gp176)"/><circle cx="118.92" cy="463.86" r="2.6" fill="url(#gp176)"/><circle cx="123.01" cy="463.83" r="2.6" fill="url(#gp176)"/><circle cx="127.11" cy="463.80" r="2.6" fill="url(#gp176)"/><circle cx="131.20" cy="463.75" r="2.6" fill="url(#gp176)"/><circle cx="135.29" cy="463.68" r="2.6" fill="url(#gp176)"/><circle cx="139.39" cy="463.56" r="2.6" fill="url(#gp176)"/><circle cx="143.48" cy="463.40" r="2.6" fill="url(#gp176)"/><circle cx="147.57" cy="463.15" r="2.6" fill="url(#gp176)"/><circle cx="151.67" cy="462.79" r="2.6" fill="url(#gp176)"/><circle cx="155.76" cy="462.25" r="2.6" fill="url(#gp176)"/><circle cx="159.86" cy="461.49" r="2.6" fill="url(#gp176)"/><circle cx="163.95" cy="460.40" r="2.6" fill="url(#gp176)"/><circle cx="168.04" cy="458.77" r="2.6" fill="url(#gp176)"/><circle cx="172.14" cy="455.77" r="2.6" fill="url(#gp176)"/><circle cx="176.23" cy="446.95" r="2.6" fill="url(#gp176)"/><circle cx="180.33" cy="414.87" r="2.6" fill="url(#gp176)"/><circle cx="184.42" cy="350.12" r="2.6" fill="url(#gp176)"/><circle cx="188.51" cy="309.11" r="2.6" fill="url(#gp176)"/><circle cx="192.61" cy="297.20" r="2.6" fill="url(#gp176)"/><circle cx="196.70" cy="293.52" r="2.6" fill="url(#gp176)"/><circle cx="200.79" cy="291.70" r="2.6" fill="url(#gp176)"/><circle cx="204.89" cy="290.51" r="2.6" fill="url(#gp176)"/><circle cx="208.98" cy="289.68" r="2.6" fill="url(#gp176)"/><circle cx="213.08" cy="289.10" r="2.6" fill="url(#gp176)"/><circle cx="217.17" cy="288.71" r="2.6" fill="url(#gp176)"/><circle cx="221.26" cy="288.44" r="2.6" fill="url(#gp176)"/><circle cx="225.36" cy="288.25" r="2.6" fill="url(#gp176)"/><circle cx="229.45" cy="288.13" r="2.6" fill="url(#gp176)"/><circle cx="233.55" cy="288.05" r="2.6" fill="url(#gp176)"/><circle cx="237.64" cy="287.99" r="2.6" fill="url(#gp176)"/><circle cx="241.73" cy="287.96" r="2.6" fill="url(#gp176)"/><circle cx="245.83" cy="287.93" r="2.6" fill="url(#gp176)"/><circle cx="249.92" cy="287.92" r="2.6" fill="url(#gp176)"/><circle cx="254.01" cy="287.91" r="2.6" fill="url(#gp176)"/><circle cx="258.11" cy="287.90" r="2.6" fill="url(#gp176)"/><circle cx="262.20" cy="287.89" r="2.6" fill="url(#gp176)"/><circle cx="269.59" cy="287.89" r="2.6" fill="url(#gp176)"/><circle cx="279.90" cy="287.89" r="2.6" fill="url(#gp176)"/><circle cx="290.20" cy="287.89" r="2.6" fill="url(#gp176)"/><circle cx="300.50" cy="287.89" r="2.6" fill="url(#gp176)"/><circle cx="310.81" cy="287.89" r="2.6" fill="url(#gp176)"/><circle cx="321.11" cy="287.89" r="2.6" fill="url(#gp176)"/><circle cx="331.42" cy="287.89" r="2.6" fill="url(#gp176)"/></g>
<g clip-path="url(#clipB)"><path d="M41.13,463.90 L45.23,463.90 L49.32,463.90 L53.42,463.90 L57.51,463.90 L61.60,463.90 L65.70,463.90 L69.79,463.90 L73.89,463.90 L77.98,463.90 L82.07,463.90 L86.17,463.90 L90.26,463.90 L94.35,463.89 L98.45,463.89 L102.54,463.88 L106.64,463.87 L110.73,463.86 L114.82,463.84 L118.92,463.81 L123.01,463.77 L127.11,463.71 L131.20,463.61 L135.29,463.46 L139.39,463.25 L143.48,462.93 L147.57,462.46 L151.67,461.78 L155.76,460.82 L159.86,459.42 L163.95,457.08 L168.04,451.28 L172.14,430.23 L176.23,372.85 L180.33,318.44 L184.42,299.67 L188.51,294.43 L192.61,292.22 L196.70,290.87 L200.79,289.93 L204.89,289.28 L208.98,288.83 L213.08,288.52 L217.17,288.31 L221.26,288.17 L225.36,288.07 L229.45,288.01 L233.55,287.97 L237.64,287.94 L241.73,287.92 L245.83,287.91 L249.92,287.90 L254.01,287.90 L258.11,287.89 L262.20,287.89 L269.59,287.89 L279.90,287.89 L290.20,287.89 L300.50,287.89 L310.81,287.89 L321.11,287.89 L331.42,287.89" fill="none" stroke="#1aa8f5" stroke-width="1.1" stroke-linejoin="round"/><circle cx="41.13" cy="463.90" r="2.6" fill="url(#gp210)"/><circle cx="45.23" cy="463.90" r="2.6" fill="url(#gp210)"/><circle cx="49.32" cy="463.90" r="2.6" fill="url(#gp210)"/><circle cx="53.42" cy="463.90" r="2.6" fill="url(#gp210)"/><circle cx="57.51" cy="463.90" r="2.6" fill="url(#gp210)"/><circle cx="61.60" cy="463.90" r="2.6" fill="url(#gp210)"/><circle cx="65.70" cy="463.90" r="2.6" fill="url(#gp210)"/><circle cx="69.79" cy="463.90" r="2.6" fill="url(#gp210)"/><circle cx="73.89" cy="463.90" r="2.6" fill="url(#gp210)"/><circle cx="77.98" cy="463.90" r="2.6" fill="url(#gp210)"/><circle cx="82.07" cy="463.90" r="2.6" fill="url(#gp210)"/><circle cx="86.17" cy="463.90" r="2.6" fill="url(#gp210)"/><circle cx="90.26" cy="463.90" r="2.6" fill="url(#gp210)"/><circle cx="94.35" cy="463.89" r="2.6" fill="url(#gp210)"/><circle cx="98.45" cy="463.89" r="2.6" fill="url(#gp210)"/><circle cx="102.54" cy="463.88" r="2.6" fill="url(#gp210)"/><circle cx="106.64" cy="463.87" r="2.6" fill="url(#gp210)"/><circle cx="110.73" cy="463.86" r="2.6" fill="url(#gp210)"/><circle cx="114.82" cy="463.84" r="2.6" fill="url(#gp210)"/><circle cx="118.92" cy="463.81" r="2.6" fill="url(#gp210)"/><circle cx="123.01" cy="463.77" r="2.6" fill="url(#gp210)"/><circle cx="127.11" cy="463.71" r="2.6" fill="url(#gp210)"/><circle cx="131.20" cy="463.61" r="2.6" fill="url(#gp210)"/><circle cx="135.29" cy="463.46" r="2.6" fill="url(#gp210)"/><circle cx="139.39" cy="463.25" r="2.6" fill="url(#gp210)"/><circle cx="143.48" cy="462.93" r="2.6" fill="url(#gp210)"/><circle cx="147.57" cy="462.46" r="2.6" fill="url(#gp210)"/><circle cx="151.67" cy="461.78" r="2.6" fill="url(#gp210)"/><circle cx="155.76" cy="460.82" r="2.6" fill="url(#gp210)"/><circle cx="159.86" cy="459.42" r="2.6" fill="url(#gp210)"/><circle cx="163.95" cy="457.08" r="2.6" fill="url(#gp210)"/><circle cx="168.04" cy="451.28" r="2.6" fill="url(#gp210)"/><circle cx="172.14" cy="430.23" r="2.6" fill="url(#gp210)"/><circle cx="176.23" cy="372.85" r="2.6" fill="url(#gp210)"/><circle cx="180.33" cy="318.44" r="2.6" fill="url(#gp210)"/><circle cx="184.42" cy="299.67" r="2.6" fill="url(#gp210)"/><circle cx="188.51" cy="294.43" r="2.6" fill="url(#gp210)"/><circle cx="192.61" cy="292.22" r="2.6" fill="url(#gp210)"/><circle cx="196.70" cy="290.87" r="2.6" fill="url(#gp210)"/><circle cx="200.79" cy="289.93" r="2.6" fill="url(#gp210)"/><circle cx="204.89" cy="289.28" r="2.6" fill="url(#gp210)"/><circle cx="208.98" cy="288.83" r="2.6" fill="url(#gp210)"/><circle cx="213.08" cy="288.52" r="2.6" fill="url(#gp210)"/><circle cx="217.17" cy="288.31" r="2.6" fill="url(#gp210)"/><circle cx="221.26" cy="288.17" r="2.6" fill="url(#gp210)"/><circle cx="225.36" cy="288.07" r="2.6" fill="url(#gp210)"/><circle cx="229.45" cy="288.01" r="2.6" fill="url(#gp210)"/><circle cx="233.55" cy="287.97" r="2.6" fill="url(#gp210)"/><circle cx="237.64" cy="287.94" r="2.6" fill="url(#gp210)"/><circle cx="241.73" cy="287.92" r="2.6" fill="url(#gp210)"/><circle cx="245.83" cy="287.91" r="2.6" fill="url(#gp210)"/><circle cx="249.92" cy="287.90" r="2.6" fill="url(#gp210)"/><circle cx="254.01" cy="287.90" r="2.6" fill="url(#gp210)"/><circle cx="258.11" cy="287.89" r="2.6" fill="url(#gp210)"/><circle cx="262.20" cy="287.89" r="2.6" fill="url(#gp210)"/><circle cx="269.59" cy="287.89" r="2.6" fill="url(#gp210)"/><circle cx="279.90" cy="287.89" r="2.6" fill="url(#gp210)"/><circle cx="290.20" cy="287.89" r="2.6" fill="url(#gp210)"/><circle cx="300.50" cy="287.89" r="2.6" fill="url(#gp210)"/><circle cx="310.81" cy="287.89" r="2.6" fill="url(#gp210)"/><circle cx="321.11" cy="287.89" r="2.6" fill="url(#gp210)"/><circle cx="331.42" cy="287.89" r="2.6" fill="url(#gp210)"/></g>
<rect x="57.40" y="268.40" width="270.70" height="202.90" fill="none" stroke="#1a1a1a" stroke-width="1.7"/>
<text x="77.40" y="491.00" font-size="19" text-anchor="middle" font-weight="normal" font-style="normal" fill="#000">3.6</text>
<text x="137.31" y="491.00" font-size="19" text-anchor="middle" font-weight="normal" font-style="normal" fill="#000">3.9</text>
<text x="197.22" y="491.00" font-size="19" text-anchor="middle" font-weight="normal" font-style="normal" fill="#000">4.2</text>
<text x="257.13" y="491.00" font-size="19" text-anchor="middle" font-weight="normal" font-style="normal" fill="#000">4.5</text>
<text x="317.04" y="491.00" font-size="19" text-anchor="middle" font-weight="normal" font-style="normal" fill="#000">4.8</text>
<text x="48.60" y="469.40" font-size="19" text-anchor="end" font-weight="normal" font-style="normal" fill="#000">0</text>
<text x="48.60" y="422.40" font-size="19" text-anchor="end" font-weight="normal" font-style="normal" fill="#000">20</text>
<text x="48.60" y="375.40" font-size="19" text-anchor="end" font-weight="normal" font-style="normal" fill="#000">40</text>
<text x="48.60" y="328.40" font-size="19" text-anchor="end" font-weight="normal" font-style="normal" fill="#000">60</text>
<text x="48.60" y="281.40" font-size="19" text-anchor="end" font-weight="normal" font-style="normal" fill="#000">80</text>
<text x="125.2" y="513.9" font-size="18.7"><tspan font-style="italic">Temperature</tspan> (K)</text>
<text transform="translate(13.6,403.4) rotate(-90)" font-size="19" x="0" y="0"><tspan font-style="italic">R</tspan><tspan font-size="12.5" dy="4">S</tspan><tspan dy="-4"> (Ω/</tspan><tspan fill="#8a8a8a" font-size="16.5">□</tspan>)</text>
<text x="0.40" y="284.00" font-size="22.5" text-anchor="start" font-weight="bold" font-style="normal" fill="#000">b</text>
<line x1="232.00" y1="354.70" x2="262.00" y2="354.70" stroke="#6a1f8f" stroke-width="1.2"/>
<circle cx="247.00" cy="354.70" r="2.7" fill="url(#gp0)"/>
<text x="266.30" y="359.50" font-size="13.3" text-anchor="start" font-weight="normal" font-style="normal" fill="#000">0 GPa</text>
<line x1="232.00" y1="370.90" x2="262.00" y2="370.90" stroke="#b0209a" stroke-width="1.2"/>
<circle cx="247.00" cy="370.90" r="2.7" fill="url(#gp055)"/>
<text x="266.30" y="375.70" font-size="13.3" text-anchor="start" font-weight="normal" font-style="normal" fill="#000">0.55 GPa</text>
<line x1="232.00" y1="387.10" x2="262.00" y2="387.10" stroke="#ff3030" stroke-width="1.2"/>
<circle cx="247.00" cy="387.10" r="2.7" fill="url(#gp086)"/>
<text x="266.30" y="391.90" font-size="13.3" text-anchor="start" font-weight="normal" font-style="normal" fill="#000">0.86 GPa</text>
<line x1="232.00" y1="403.30" x2="262.00" y2="403.30" stroke="#7e0a0a" stroke-width="1.2"/>
<circle cx="247.00" cy="403.30" r="2.7" fill="url(#gp106)"/>
<text x="266.30" y="408.10" font-size="13.3" text-anchor="start" font-weight="normal" font-style="normal" fill="#000">1.06 GPa</text>
<line x1="232.00" y1="419.50" x2="262.00" y2="419.50" stroke="#1010ff" stroke-width="1.2"/>
<circle cx="247.00" cy="419.50" r="2.7" fill="url(#gp142)"/>
<text x="266.30" y="424.30" font-size="13.3" text-anchor="start" font-weight="normal" font-style="normal" fill="#000">1.42 GPa</text>
<line x1="232.00" y1="435.70" x2="262.00" y2="435.70" stroke="#9922ee" stroke-width="1.2"/>
<circle cx="247.00" cy="435.70" r="2.7" fill="url(#gp176)"/>
<text x="266.30" y="440.50" font-size="13.3" text-anchor="start" font-weight="normal" font-style="normal" fill="#000">1.76 GPa</text>
<line x1="232.00" y1="451.90" x2="262.00" y2="451.90" stroke="#1aa8f5" stroke-width="1.2"/>
<circle cx="247.00" cy="451.90" r="2.7" fill="url(#gp210)"/>
<text x="266.30" y="456.70" font-size="13.3" text-anchor="start" font-weight="normal" font-style="normal" fill="#000">2.10 GPa</text>
<line x1="170.00" y1="361.60" x2="238.90" y2="361.60" stroke="#000" stroke-width="1.6"/>
<path d="M160.8,361.6 L173.0,357.6 L170.2,361.6 L173.0,365.6 Z" fill="#000"/>
<text x="89.8" y="414.3" font-size="20"><tspan font-style="italic">β</tspan> - 1</text>
<text x="62.5" y="437.9" font-size="18.8"><tspan font-style="italic">d</tspan> = 13.3 nm</text>
<path d="M440.10,149.03 L441.79,148.16 L443.49,147.29 L445.18,146.41 L446.88,145.53 L448.57,144.66 L450.26,143.78 L451.96,142.90 L453.65,142.03 L455.34,141.15 L457.04,140.28 L458.73,139.41 L460.43,138.54 L462.12,137.68 L463.81,136.82 L465.51,135.96 L467.20,135.11 L469.10,134.17 L470.99,133.26 L472.89,132.37 L474.79,131.49 L476.69,130.62 L478.58,129.75 L480.48,128.88 L482.38,128.01 L484.27,127.13 L486.17,126.24 L488.07,125.32 L489.96,124.39 L491.86,123.43 L493.76,122.43 L495.66,121.40 L497.55,120.32 L499.79,118.96 L502.02,117.49 L504.26,115.91 L506.50,114.26 L508.73,112.54 L510.97,110.78 L513.20,108.98 L515.44,107.18 L517.67,105.39 L519.91,103.62 L522.15,101.89 L524.38,100.22 L526.62,98.63 L528.85,97.14 L531.09,95.76 L533.32,94.51 L534.68,93.81 L536.03,93.15 L537.39,92.52 L538.74,91.91 L540.10,91.32 L541.45,90.75 L542.81,90.19 L544.16,89.64 L545.52,89.10 L546.87,88.57 L548.23,88.03 L549.58,87.50 L550.94,86.95 L552.29,86.39 L553.65,85.82 L555.00,85.23 L558.32,83.67 L561.64,81.95 L564.96,80.11 L568.28,78.18 L571.60,76.19 L574.92,74.19 L578.24,72.19 L581.56,70.25 L584.88,68.39 L588.20,66.65 L591.52,65.06 L594.84,63.65 L598.16,62.47 L601.48,61.54 L604.80,60.90 L608.12,60.58 L609.54,60.52 L610.97,60.46 L612.39,60.40 L613.81,60.35 L615.23,60.30 L616.66,60.25 L618.08,60.21 L619.50,60.17 L620.92,60.13 L622.35,60.10 L623.77,60.07 L625.19,60.04 L626.62,60.03 L628.04,60.01 L629.46,60.00 L630.88,60.00 L632.04,60.01 L633.19,60.04 L634.34,60.09 L635.49,60.15 L636.64,60.23 L637.79,60.32 L638.95,60.43 L640.10,60.54 L641.25,60.67 L642.40,60.81 L643.55,60.95 L644.71,61.10 L645.86,61.26 L647.01,61.42 L648.16,61.58 L649.31,61.74 L650.46,61.92 L651.62,62.14 L652.77,62.40 L653.92,62.68 L655.07,62.99 L656.22,63.32 L657.37,63.66 L658.53,64.02 L659.68,64.40 L660.83,64.77 L661.98,65.15 L663.13,65.53 L664.28,65.91 L665.44,66.27 L666.59,66.62 L667.74,66.96" fill="none" stroke="#0a14d8" stroke-width="2"/>
<line x1="440.10" y1="102.92" x2="440.10" y2="172.52" stroke="#0a14d8" stroke-width="2"/>
<line x1="435.60" y1="102.92" x2="444.60" y2="102.92" stroke="#0a14d8" stroke-width="2"/>
<line x1="435.60" y1="172.52" x2="444.60" y2="172.52" stroke="#0a14d8" stroke-width="2"/>
<rect x="434.90" y="143.83" width="10.4" height="10.4" fill="#0a14d8"/>
<line x1="467.20" y1="93.06" x2="467.20" y2="157.73" stroke="#0a14d8" stroke-width="2"/>
<line x1="462.70" y1="93.06" x2="471.70" y2="93.06" stroke="#0a14d8" stroke-width="2"/>
<line x1="462.70" y1="157.73" x2="471.70" y2="157.73" stroke="#0a14d8" stroke-width="2"/>
<rect x="462.00" y="129.91" width="10.4" height="10.4" fill="#0a14d8"/>
<line x1="497.55" y1="85.52" x2="497.55" y2="142.94" stroke="#0a14d8" stroke-width="2"/>
<line x1="493.05" y1="85.52" x2="502.05" y2="85.52" stroke="#0a14d8" stroke-width="2"/>
<line x1="493.05" y1="142.94" x2="502.05" y2="142.94" stroke="#0a14d8" stroke-width="2"/>
<rect x="492.35" y="115.12" width="10.4" height="10.4" fill="#0a14d8"/>
<line x1="533.32" y1="71.60" x2="533.32" y2="114.52" stroke="#0a14d8" stroke-width="2"/>
<line x1="528.82" y1="71.60" x2="537.82" y2="71.60" stroke="#0a14d8" stroke-width="2"/>
<line x1="528.82" y1="114.52" x2="537.82" y2="114.52" stroke="#0a14d8" stroke-width="2"/>
<rect x="528.12" y="89.31" width="10.4" height="10.4" fill="#0a14d8"/>
<line x1="555.00" y1="65.80" x2="555.00" y2="100.02" stroke="#0a14d8" stroke-width="2"/>
<line x1="550.50" y1="65.80" x2="559.50" y2="65.80" stroke="#0a14d8" stroke-width="2"/>
<line x1="550.50" y1="100.02" x2="559.50" y2="100.02" stroke="#0a14d8" stroke-width="2"/>
<rect x="549.80" y="80.03" width="10.4" height="10.4" fill="#0a14d8"/>
<line x1="608.12" y1="51.30" x2="608.12" y2="80.01" stroke="#0a14d8" stroke-width="2"/>
<line x1="603.62" y1="51.30" x2="612.62" y2="51.30" stroke="#0a14d8" stroke-width="2"/>
<line x1="603.62" y1="80.01" x2="612.62" y2="80.01" stroke="#0a14d8" stroke-width="2"/>
<rect x="602.92" y="55.38" width="10.4" height="10.4" fill="#0a14d8"/>
<line x1="630.88" y1="48.11" x2="630.88" y2="88.71" stroke="#0a14d8" stroke-width="2"/>
<line x1="626.38" y1="48.11" x2="635.38" y2="48.11" stroke="#0a14d8" stroke-width="2"/>
<line x1="626.38" y1="88.71" x2="635.38" y2="88.71" stroke="#0a14d8" stroke-width="2"/>
<rect x="625.68" y="54.80" width="10.4" height="10.4" fill="#0a14d8"/>
<line x1="649.31" y1="51.30" x2="649.31" y2="91.90" stroke="#0a14d8" stroke-width="2"/>
<line x1="644.81" y1="51.30" x2="653.81" y2="51.30" stroke="#0a14d8" stroke-width="2"/>
<line x1="644.81" y1="91.90" x2="653.81" y2="91.90" stroke="#0a14d8" stroke-width="2"/>
<rect x="644.11" y="56.54" width="10.4" height="10.4" fill="#0a14d8"/>
<line x1="667.74" y1="54.49" x2="667.74" y2="97.70" stroke="#0a14d8" stroke-width="2"/>
<line x1="663.24" y1="54.49" x2="672.24" y2="54.49" stroke="#0a14d8" stroke-width="2"/>
<line x1="663.24" y1="97.70" x2="672.24" y2="97.70" stroke="#0a14d8" stroke-width="2"/>
<rect x="662.54" y="61.76" width="10.4" height="10.4" fill="#0a14d8"/>
<rect x="413.60" y="7.80" width="270.40" height="203.20" fill="none" stroke="#1a1a1a" stroke-width="1.7"/>
<line x1="440.10" y1="210.20" x2="440.10" y2="206.20" stroke="#1a1a1a" stroke-width="1.5"/>
<line x1="494.30" y1="210.20" x2="494.30" y2="206.20" stroke="#1a1a1a" stroke-width="1.5"/>
<line x1="548.50" y1="210.20" x2="548.50" y2="206.20" stroke="#1a1a1a" stroke-width="1.5"/>
<line x1="602.70" y1="210.20" x2="602.70" y2="206.20" stroke="#1a1a1a" stroke-width="1.5"/>
<line x1="656.90" y1="210.20" x2="656.90" y2="206.20" stroke="#1a1a1a" stroke-width="1.5"/>
<line x1="467.20" y1="210.20" x2="467.20" y2="208.20" stroke="#1a1a1a" stroke-width="1.5"/>
<line x1="521.40" y1="210.20" x2="521.40" y2="208.20" stroke="#1a1a1a" stroke-width="1.5"/>
<line x1="575.60" y1="210.20" x2="575.60" y2="208.20" stroke="#1a1a1a" stroke-width="1.5"/>
<line x1="629.80" y1="210.20" x2="629.80" y2="208.20" stroke="#1a1a1a" stroke-width="1.5"/>
<line x1="414.40" y1="181.80" x2="418.40" y2="181.80" stroke="#1a1a1a" stroke-width="1.5"/>
<line x1="414.40" y1="123.80" x2="418.40" y2="123.80" stroke="#1a1a1a" stroke-width="1.5"/>
<line x1="414.40" y1="65.80" x2="418.40" y2="65.80" stroke="#1a1a1a" stroke-width="1.5"/>
<line x1="414.40" y1="7.80" x2="418.40" y2="7.80" stroke="#1a1a1a" stroke-width="1.5"/>
<line x1="414.40" y1="152.80" x2="416.40" y2="152.80" stroke="#1a1a1a" stroke-width="1.5"/>
<line x1="414.40" y1="94.80" x2="416.40" y2="94.80" stroke="#1a1a1a" stroke-width="1.5"/>
<line x1="414.40" y1="36.80" x2="416.40" y2="36.80" stroke="#1a1a1a" stroke-width="1.5"/>
<text x="440.10" y="231.00" font-size="19" text-anchor="middle" font-weight="normal" font-style="normal" fill="#000">0.0</text>
<text x="494.30" y="231.00" font-size="19" text-anchor="middle" font-weight="normal" font-style="normal" fill="#000">0.5</text>
<text x="548.50" y="231.00" font-size="19" text-anchor="middle" font-weight="normal" font-style="normal" fill="#000">1.0</text>
<text x="602.70" y="231.00" font-size="19" text-anchor="middle" font-weight="normal" font-style="normal" fill="#000">1.5</text>
<text x="656.90" y="231.00" font-size="19" text-anchor="middle" font-weight="normal" font-style="normal" fill="#000">2.0</text>
<text x="406.80" y="187.20" font-size="19" text-anchor="end" font-weight="normal" font-style="normal" fill="#000">3.4</text>
<text x="406.80" y="129.20" font-size="19" text-anchor="end" font-weight="normal" font-style="normal" fill="#000">3.6</text>
<text x="406.80" y="71.20" font-size="19" text-anchor="end" font-weight="normal" font-style="normal" fill="#000">3.8</text>
<text x="406.80" y="13.20" font-size="19" text-anchor="end" font-weight="normal" font-style="normal" fill="#000">4.0</text>
<text x="485.0" y="252.0" font-size="18.5"><tspan font-style="italic">Pressure</tspan> (GPa)</text>
<text transform="translate(366.0,158.8) rotate(-90)" font-size="19" x="0" y="0"><tspan font-style="italic">T</tspan><tspan font-size="12.7" dy="3.6">c(<tspan font-style="italic">α</tspan>-Mo<tspan font-size="9" dy="1.2">2</tspan><tspan dy="-1.2">C)</tspan></tspan><tspan dy="-3.6"> (K)</tspan></text>
<text x="349.10" y="21.10" font-size="22.5" text-anchor="start" font-weight="bold" font-style="normal" fill="#000">c</text>
<line x1="560.50" y1="134.30" x2="608.30" y2="134.30" stroke="#0a14d8" stroke-width="2"/>
<rect x="579.0" y="129.1" width="10.6" height="10.6" fill="#0a14d8"/>
<text x="619.3" y="141.3" font-size="20"><tspan font-style="italic">α</tspan> - 1</text>
<line x1="440.10" y1="321.60" x2="667.74" y2="399.30" stroke="#fb8a14" stroke-width="2"/>
<line x1="440.10" y1="305.70" x2="440.10" y2="316.60" stroke="#fb8a14" stroke-width="2"/>
<line x1="440.10" y1="326.60" x2="440.10" y2="358.90" stroke="#fb8a14" stroke-width="2"/>
<line x1="435.60" y1="305.70" x2="444.60" y2="305.70" stroke="#fb8a14" stroke-width="2"/>
<line x1="435.60" y1="358.90" x2="444.60" y2="358.90" stroke="#fb8a14" stroke-width="2"/>
<line x1="467.20" y1="315.10" x2="467.20" y2="324.70" stroke="#fb8a14" stroke-width="2"/>
<line x1="467.20" y1="334.70" x2="467.20" y2="368.40" stroke="#fb8a14" stroke-width="2"/>
<line x1="462.70" y1="315.10" x2="471.70" y2="315.10" stroke="#fb8a14" stroke-width="2"/>
<line x1="462.70" y1="368.40" x2="471.70" y2="368.40" stroke="#fb8a14" stroke-width="2"/>
<line x1="497.55" y1="321.60" x2="497.55" y2="333.10" stroke="#fb8a14" stroke-width="2"/>
<line x1="497.55" y1="343.10" x2="497.55" y2="381.10" stroke="#fb8a14" stroke-width="2"/>
<line x1="493.05" y1="321.60" x2="502.05" y2="321.60" stroke="#fb8a14" stroke-width="2"/>
<line x1="493.05" y1="381.10" x2="502.05" y2="381.10" stroke="#fb8a14" stroke-width="2"/>
<line x1="533.32" y1="331.10" x2="533.32" y2="347.20" stroke="#fb8a14" stroke-width="2"/>
<line x1="533.32" y1="357.20" x2="533.32" y2="393.50" stroke="#fb8a14" stroke-width="2"/>
<line x1="528.82" y1="331.10" x2="537.82" y2="331.10" stroke="#fb8a14" stroke-width="2"/>
<line x1="528.82" y1="393.50" x2="537.82" y2="393.50" stroke="#fb8a14" stroke-width="2"/>
<line x1="555.00" y1="343.20" x2="555.00" y2="355.30" stroke="#fb8a14" stroke-width="2"/>
<line x1="555.00" y1="365.30" x2="555.00" y2="403.00" stroke="#fb8a14" stroke-width="2"/>
<line x1="550.50" y1="343.20" x2="559.50" y2="343.20" stroke="#fb8a14" stroke-width="2"/>
<line x1="550.50" y1="403.00" x2="559.50" y2="403.00" stroke="#fb8a14" stroke-width="2"/>
<line x1="594.03" y1="352.90" x2="594.03" y2="368.40" stroke="#fb8a14" stroke-width="2"/>
<line x1="594.03" y1="378.40" x2="594.03" y2="414.90" stroke="#fb8a14" stroke-width="2"/>
<line x1="589.53" y1="352.90" x2="598.53" y2="352.90" stroke="#fb8a14" stroke-width="2"/>
<line x1="589.53" y1="414.90" x2="598.53" y2="414.90" stroke="#fb8a14" stroke-width="2"/>
<line x1="608.12" y1="359.00" x2="608.12" y2="373.30" stroke="#fb8a14" stroke-width="2"/>
<line x1="608.12" y1="383.30" x2="608.12" y2="421.20" stroke="#fb8a14" stroke-width="2"/>
<line x1="603.62" y1="359.00" x2="612.62" y2="359.00" stroke="#fb8a14" stroke-width="2"/>
<line x1="603.62" y1="421.20" x2="612.62" y2="421.20" stroke="#fb8a14" stroke-width="2"/>
<line x1="630.88" y1="368.10" x2="630.88" y2="381.70" stroke="#fb8a14" stroke-width="2"/>
<line x1="630.88" y1="391.70" x2="630.88" y2="427.70" stroke="#fb8a14" stroke-width="2"/>
<line x1="626.38" y1="368.10" x2="635.38" y2="368.10" stroke="#fb8a14" stroke-width="2"/>
<line x1="626.38" y1="427.70" x2="635.38" y2="427.70" stroke="#fb8a14" stroke-width="2"/>
<line x1="649.31" y1="374.60" x2="649.31" y2="388.20" stroke="#fb8a14" stroke-width="2"/>
<line x1="649.31" y1="398.20" x2="649.31" y2="434.20" stroke="#fb8a14" stroke-width="2"/>
<line x1="644.81" y1="374.60" x2="653.81" y2="374.60" stroke="#fb8a14" stroke-width="2"/>
<line x1="644.81" y1="434.20" x2="653.81" y2="434.20" stroke="#fb8a14" stroke-width="2"/>
<line x1="667.74" y1="377.80" x2="667.74" y2="394.30" stroke="#fb8a14" stroke-width="2"/>
<line x1="667.74" y1="404.30" x2="667.74" y2="442.90" stroke="#fb8a14" stroke-width="2"/>
<line x1="663.24" y1="377.80" x2="672.24" y2="377.80" stroke="#fb8a14" stroke-width="2"/>
<line x1="663.24" y1="442.90" x2="672.24" y2="442.90" stroke="#fb8a14" stroke-width="2"/>
<polygon points="440.10,316.40 444.60,319.00 444.60,324.20 440.10,326.80 435.60,324.20 435.60,319.00" fill="#fff" fill-opacity="0.0" stroke="#fb8a14" stroke-width="2.6"/>
<polygon points="467.20,324.50 471.70,327.10 471.70,332.30 467.20,334.90 462.70,332.30 462.70,327.10" fill="#fff" fill-opacity="0.0" stroke="#fb8a14" stroke-width="2.6"/>
<polygon points="497.55,332.90 502.06,335.50 502.06,340.70 497.55,343.30 493.05,340.70 493.05,335.50" fill="#fff" fill-opacity="0.0" stroke="#fb8a14" stroke-width="2.6"/>
<polygon points="533.32,347.00 537.83,349.60 537.83,354.80 533.32,357.40 528.82,354.80 528.82,349.60" fill="#fff" fill-opacity="0.0" stroke="#fb8a14" stroke-width="2.6"/>
<polygon points="555.00,355.10 559.51,357.70 559.51,362.90 555.00,365.50 550.50,362.90 550.50,357.70" fill="#fff" fill-opacity="0.0" stroke="#fb8a14" stroke-width="2.6"/>
<polygon points="594.03,368.20 598.53,370.80 598.53,376.00 594.03,378.60 589.52,376.00 589.52,370.80" fill="#fff" fill-opacity="0.0" stroke="#fb8a14" stroke-width="2.6"/>
<polygon points="608.12,373.10 612.62,375.70 612.62,380.90 608.12,383.50 603.62,380.90 603.62,375.70" fill="#fff" fill-opacity="0.0" stroke="#fb8a14" stroke-width="2.6"/>
<polygon points="630.88,381.50 635.39,384.10 635.39,389.30 630.88,391.90 626.38,389.30 626.38,384.10" fill="#fff" fill-opacity="0.0" stroke="#fb8a14" stroke-width="2.6"/>
<polygon points="649.31,388.00 653.82,390.60 653.82,395.80 649.31,398.40 644.81,395.80 644.81,390.60" fill="#fff" fill-opacity="0.0" stroke="#fb8a14" stroke-width="2.6"/>
<polygon points="667.74,394.10 672.24,396.70 672.24,401.90 667.74,404.50 663.24,401.90 663.24,396.70" fill="#fff" fill-opacity="0.0" stroke="#fb8a14" stroke-width="2.6"/>
<rect x="413.40" y="268.30" width="270.60" height="202.50" fill="none" stroke="#1a1a1a" stroke-width="1.7"/>
<line x1="440.10" y1="470.00" x2="440.10" y2="466.00" stroke="#1a1a1a" stroke-width="1.5"/>
<line x1="494.30" y1="470.00" x2="494.30" y2="466.00" stroke="#1a1a1a" stroke-width="1.5"/>
<line x1="548.50" y1="470.00" x2="548.50" y2="466.00" stroke="#1a1a1a" stroke-width="1.5"/>
<line x1="602.70" y1="470.00" x2="602.70" y2="466.00" stroke="#1a1a1a" stroke-width="1.5"/>
<line x1="656.90" y1="470.00" x2="656.90" y2="466.00" stroke="#1a1a1a" stroke-width="1.5"/>
<line x1="467.20" y1="470.00" x2="467.20" y2="468.00" stroke="#1a1a1a" stroke-width="1.5"/>
<line x1="521.40" y1="470.00" x2="521.40" y2="468.00" stroke="#1a1a1a" stroke-width="1.5"/>
<line x1="575.60" y1="470.00" x2="575.60" y2="468.00" stroke="#1a1a1a" stroke-width="1.5"/>
<line x1="629.80" y1="470.00" x2="629.80" y2="468.00" stroke="#1a1a1a" stroke-width="1.5"/>
<line x1="414.20" y1="455.32" x2="418.20" y2="455.32" stroke="#1a1a1a" stroke-width="1.5"/>
<line x1="414.20" y1="408.57" x2="418.20" y2="408.57" stroke="#1a1a1a" stroke-width="1.5"/>
<line x1="414.20" y1="361.81" x2="418.20" y2="361.81" stroke="#1a1a1a" stroke-width="1.5"/>
<line x1="414.20" y1="315.06" x2="418.20" y2="315.06" stroke="#1a1a1a" stroke-width="1.5"/>
<line x1="414.20" y1="268.30" x2="418.20" y2="268.30" stroke="#1a1a1a" stroke-width="1.5"/>
<line x1="414.20" y1="431.94" x2="416.20" y2="431.94" stroke="#1a1a1a" stroke-width="1.5"/>
<line x1="414.20" y1="385.19" x2="416.20" y2="385.19" stroke="#1a1a1a" stroke-width="1.5"/>
<line x1="414.20" y1="338.43" x2="416.20" y2="338.43" stroke="#1a1a1a" stroke-width="1.5"/>
<line x1="414.20" y1="291.68" x2="416.20" y2="291.68" stroke="#1a1a1a" stroke-width="1.5"/>
<text x="440.10" y="491.00" font-size="19" text-anchor="middle" font-weight="normal" font-style="normal" fill="#000">0.0</text>
<text x="494.30" y="491.00" font-size="19" text-anchor="middle" font-weight="normal" font-style="normal" fill="#000">0.5</text>
<text x="548.50" y="491.00" font-size="19" text-anchor="middle" font-weight="normal" font-style="normal" fill="#000">1.0</text>
<text x="602.70" y="491.00" font-size="19" text-anchor="middle" font-weight="normal" font-style="normal" fill="#000">1.5</text>
<text x="656.90" y="491.00" font-size="19" text-anchor="middle" font-weight="normal" font-style="normal" fill="#000">2.0</text>
<text x="406.80" y="460.72" font-size="19" text-anchor="end" font-weight="normal" font-style="normal" fill="#000">3.90</text>
<text x="406.80" y="413.97" font-size="19" text-anchor="end" font-weight="normal" font-style="normal" fill="#000">4.05</text>
<text x="406.80" y="367.21" font-size="19" text-anchor="end" font-weight="normal" font-style="normal" fill="#000">4.20</text>
<text x="406.80" y="320.46" font-size="19" text-anchor="end" font-weight="normal" font-style="normal" fill="#000">4.35</text>
<text x="406.80" y="273.70" font-size="19" text-anchor="end" font-weight="normal" font-style="normal" fill="#000">4.50</text>
<text x="484.4" y="513.1" font-size="18.6"><tspan font-style="italic">Pressure</tspan> (GPa)</text>
<text transform="translate(360.0,419.3) rotate(-90)" font-size="19" x="0" y="0"><tspan font-style="italic">T</tspan><tspan font-size="12.7" dy="3.6">c(<tspan font-style="italic">β</tspan>-Mo<tspan font-size="9" dy="1.2">2</tspan><tspan dy="-1.2">C)</tspan></tspan><tspan dy="-3.6"> (K)</tspan></text>
<text x="345.60" y="284.50" font-size="22.5" text-anchor="start" font-weight="bold" font-style="normal" fill="#000">d</text>
<polygon points="523.60,279.60 527.76,282.00 527.76,286.80 523.60,289.20 519.44,286.80 519.44,282.00" fill="#fff" fill-opacity="0.0" stroke="#fb8a14" stroke-width="2.6"/>
<text x="552.4" y="292.0" font-size="20"><tspan font-style="italic">β</tspan> - 1</text>
<line x1="500.00" y1="309.70" x2="548.40" y2="309.70" stroke="#fb8a14" stroke-width="2"/>
<text x="559.0" y="316.8" font-size="20.6">Linear Fitting</text>
<text y="458.3" font-size="20.5"><tspan x="423.4">d</tspan><tspan x="434.4" font-style="italic">T</tspan><tspan x="446.3" y="464.2" font-size="13.5">c</tspan><tspan x="454.6" y="458.3">/d</tspan><tspan x="471.3" font-style="italic">P</tspan><tspan x="492.3">=</tspan><tspan x="509.8">−</tspan><tspan x="525.2">0.</tspan><tspan x="540.5">1</tspan><tspan x="553.0">2</tspan><tspan x="571.2">K</tspan><tspan x="589.4">GPa</tspan><tspan x="632.4" y="450.6" font-size="14.5">-1</tspan></text>
<clipPath id="clipIA"><rect x="66.4" y="38.0" width="90.5" height="89.6"/></clipPath><g clip-path="url(#clipIA)"><g filter="url(#blur1)"><rect x="60" y="30" width="110" height="110" fill="#5a4126"/><g transform="translate(110,80) rotate(-30)"><polygon points="-19,-9 18,-9 18,13 -19,13" fill="#9c8638"/><polygon points="-25.4,-26 14.2,-26 25.3,-21.4 24.5,-7.2 -25.4,-7.2" fill="#f5d64a" stroke="#eea43a" stroke-width="0.7" stroke-linejoin="round"/><polygon points="-24.6,10.6 24.9,10.6 15.7,32.4 -24.6,32.4" fill="#f5d64a" stroke="#eea43a" stroke-width="0.7" stroke-linejoin="round"/></g><polygon points="108.6,51.5 110.8,30 121.9,30 121.4,50" fill="#f5d64a" stroke="#eea43a" stroke-width="0.7" stroke-linejoin="round"/><polygon points="110,51 111.8,36 120.9,36 120.6,51" fill="#f5d64a"/><polygon points="137.4,82.5 143.3,90.1 162,93 162,102.8 141.5,97.9 139.8,100.2" fill="#f5d64a" stroke="#eea43a" stroke-width="0.7" stroke-linejoin="round"/><polygon points="136,84 142.5,91.2 162,94 162,101.8 141.5,96.9 138.8,99.2" fill="#f5d64a"/><polyline points="88.2,92.3 162,49.6" fill="none" stroke="#eea43a" stroke-width="3.1" stroke-linecap="round"/><polyline points="88.2,92.3 162,49.6" fill="none" stroke="#f8dc50" stroke-width="2.3" stroke-linecap="round"/><polyline points="91.3,98.2 138.9,70.1 162,64.5" fill="none" stroke="#eea43a" stroke-width="3.1" stroke-linecap="round" stroke-linejoin="round"/><polyline points="91.3,98.2 138.9,70.1 162,64.5" fill="none" stroke="#f8dc50" stroke-width="2.3" stroke-linecap="round" stroke-linejoin="round"/></g></g><polygon points="86.2,74.5 113.1,57.3 140.3,97.4 111.9,115.7" fill="none" stroke="#ff1414" stroke-width="2.3" stroke-dasharray="6,2.9"/>
<clipPath id="clipIB"><rect x="65.6" y="294.4" width="90.2" height="89.3"/></clipPath><g clip-path="url(#clipIB)"><g filter="url(#blur1)"><rect x="60" y="290" width="100" height="100" fill="#5a4126"/><polygon points="82.4,290 97,290 96.5,306 89,306.5 84,303 82.4,300" fill="#9a9848"/><polygon points="97,290 99,290 99.5,306 96.5,306" fill="#6e6030"/><polygon points="99,290 121.5,290 116,302 109.5,311 100,307.5" fill="#c2b452"/><polygon points="60,374.8 80.6,375.6 84.1,390 60,390" fill="#a39a4c"/><polygon points="89,316 117,311 137.5,332 130.5,361 101,366 79,344" fill="#9c8638"/><polygon points="89.4,306.4 110.5,311 141.4,321.8 152.7,307.9 158,300 158,323.5 149.5,338.4 136,335.2 91,321.6 85.6,320.0" fill="#f5d64a" stroke="#eea43a" stroke-width="0.7" stroke-linejoin="round"/><polyline points="83.4,325.8 160,347.3" fill="none" stroke="#eea43a" stroke-width="2.9" stroke-linecap="round"/><polyline points="83.4,325.8 160,347.3" fill="none" stroke="#f8dc50" stroke-width="2.1" stroke-linecap="round"/><polyline points="81.7,334.0 134,349.8 160,359.6" fill="none" stroke="#eea43a" stroke-width="2.9" stroke-linejoin="round" stroke-linecap="round"/><polyline points="81.7,334.0 134,349.8 160,359.6" fill="none" stroke="#f8dc50" stroke-width="2.1" stroke-linejoin="round" stroke-linecap="round"/><polygon points="78.9,340.6 140.4,357.4 141,364.2 143.2,371 156,386 142.5,386 131.3,369.2 100.4,365.6 74.5,351.4" fill="#f5d64a" stroke="#eea43a" stroke-width="0.7" stroke-linejoin="round"/></g></g><polygon points="91,317.2 117,312.3 136.3,332.3 128.3,359.6 101,364.8 80.8,344.2" fill="none" stroke="#ff1414" stroke-width="2.3" stroke-dasharray="6,2.9"/>
</svg></body></html>
